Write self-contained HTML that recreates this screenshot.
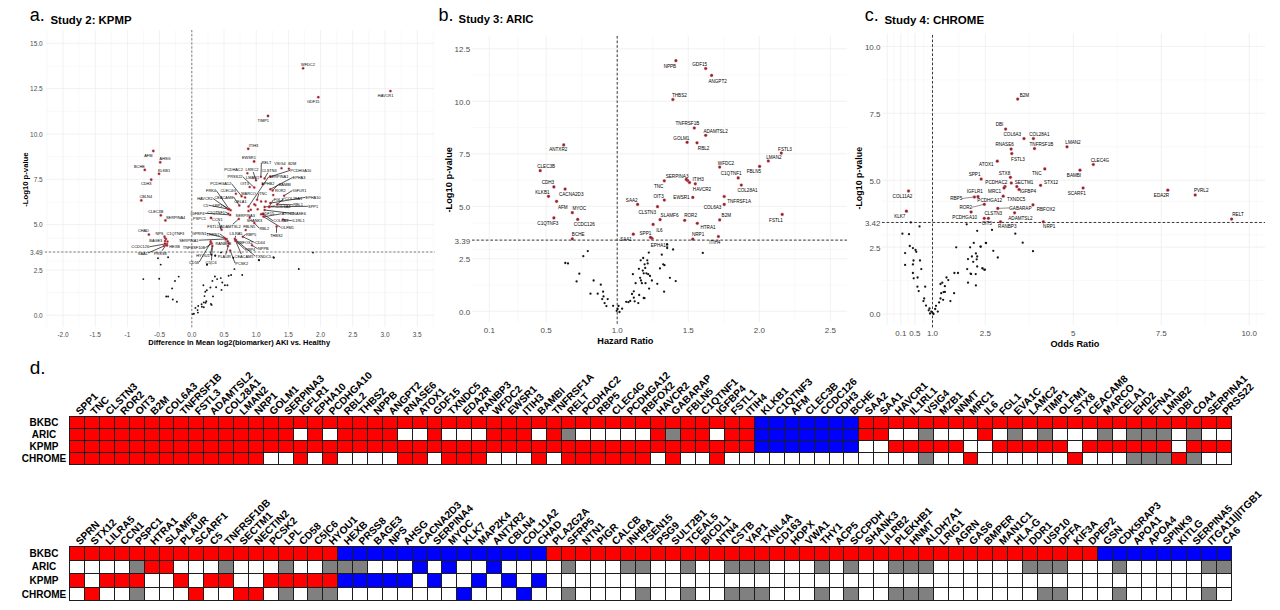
<!DOCTYPE html>
<html><head><meta charset="utf-8"><style>
html,body{margin:0;padding:0;background:#fff;}
body{width:1280px;height:610px;overflow:hidden;}
svg{display:block;font-family:"Liberation Sans",sans-serif;}
</style></head><body>
<svg width="1280" height="610" viewBox="0 0 1280 610">
<rect width="1280" height="610" fill="#fff"/>
<path d="M79.1 30V327M111.3 30V327M143.5 30V327M175.7 30V327M207.9 30V327M240.1 30V327M272.3 30V327M304.5 30V327M336.7 30V327M368.9 30V327M401.1 30V327M46.9 30V327M433.3 30V327M46 292.64H434M46 261H434M46 238.34H434M46 201.99H434M46 156.66H434M46 111.34H434M46 66.01H434" stroke="#f2f2f2" stroke-width="0.5" fill="none"/>
<path d="M63 30V327M95.2 30V327M127.4 30V327M159.6 30V327M191.8 30V327M224 30V327M256.2 30V327M288.4 30V327M320.6 30V327M352.8 30V327M385 30V327M417.2 30V327M46 315.3H434M46 269.98H434M46 252.03H434M46 224.65H434M46 179.33H434M46 134H434M46 88.68H434M46 43.35H434" stroke="#ececec" stroke-width="0.75" fill="none"/>
<line x1="191.8" y1="30" x2="191.8" y2="329" stroke="#555" stroke-width="0.75" stroke-dasharray="2.2 1.9"/>
<line x1="44.8" y1="252.03" x2="435" y2="252.03" stroke="#555" stroke-width="0.75" stroke-dasharray="2.2 1.9"/>
<text x="42.7" y="317.9" font-size="6.5" text-anchor="end" fill="#4d4d4d">0.0</text>
<text x="42.7" y="272.58" font-size="6.5" text-anchor="end" fill="#4d4d4d">2.5</text>
<text x="42.7" y="254.63" font-size="6.5" text-anchor="end" fill="#4d4d4d">3.49</text>
<text x="42.7" y="227.25" font-size="6.5" text-anchor="end" fill="#4d4d4d">5.0</text>
<text x="42.7" y="181.93" font-size="6.5" text-anchor="end" fill="#4d4d4d">7.5</text>
<text x="42.7" y="136.6" font-size="6.5" text-anchor="end" fill="#4d4d4d">10.0</text>
<text x="42.7" y="91.28" font-size="6.5" text-anchor="end" fill="#4d4d4d">12.5</text>
<text x="42.7" y="45.95" font-size="6.5" text-anchor="end" fill="#4d4d4d">15.0</text>
<text x="63" y="336.51" font-size="6.5" text-anchor="middle" fill="#4d4d4d">-2.0</text>
<text x="95.2" y="336.51" font-size="6.5" text-anchor="middle" fill="#4d4d4d">-1.5</text>
<text x="127.4" y="336.51" font-size="6.5" text-anchor="middle" fill="#4d4d4d">-1</text>
<text x="159.6" y="336.51" font-size="6.5" text-anchor="middle" fill="#4d4d4d">-0.5</text>
<text x="191.8" y="336.51" font-size="6.5" text-anchor="middle" fill="#4d4d4d">0.0</text>
<text x="224" y="336.51" font-size="6.5" text-anchor="middle" fill="#4d4d4d">0.5</text>
<text x="256.2" y="336.51" font-size="6.5" text-anchor="middle" fill="#4d4d4d">1.0</text>
<text x="288.4" y="336.51" font-size="6.5" text-anchor="middle" fill="#4d4d4d">1.5</text>
<text x="320.6" y="336.51" font-size="6.5" text-anchor="middle" fill="#4d4d4d">2.0</text>
<text x="352.8" y="336.51" font-size="6.5" text-anchor="middle" fill="#4d4d4d">2.5</text>
<text x="385" y="336.51" font-size="6.5" text-anchor="middle" fill="#4d4d4d">3.0</text>
<text x="417.2" y="336.51" font-size="6.5" text-anchor="middle" fill="#4d4d4d">3.5</text>
<text transform="translate(28.17 179.6) rotate(-90)" font-size="7.7" font-weight="bold" text-anchor="middle">-Log10 p-value</text>
<text x="239.2" y="345.2" font-size="7.5" font-weight="bold" text-anchor="middle" fill="#000">Difference in Mean log2(biomarker) AKI vs. Healthy</text>
<text x="29.8" y="20.6" font-size="18" fill="#000">a.</text>
<text x="50.5" y="23.9" font-size="11.4" font-weight="bold" fill="#000">Study 2: KPMP</text>
<g fill="#151515"><circle cx="313" cy="252.6" r="0.96"/><circle cx="298.8" cy="269" r="0.96"/><circle cx="273.4" cy="257.3" r="0.96"/><circle cx="258.8" cy="259.9" r="0.96"/><circle cx="242.2" cy="275" r="0.96"/><circle cx="234.4" cy="269.1" r="0.96"/><circle cx="231.1" cy="275" r="0.96"/><circle cx="228.6" cy="275.7" r="0.96"/><circle cx="220.8" cy="278.1" r="0.96"/><circle cx="214.9" cy="276.5" r="0.96"/><circle cx="217.1" cy="279.1" r="0.96"/><circle cx="212.4" cy="280.9" r="0.96"/><circle cx="222.3" cy="282.5" r="0.96"/><circle cx="224.9" cy="285.3" r="0.96"/><circle cx="227.4" cy="285.3" r="0.96"/><circle cx="221.5" cy="289.9" r="0.96"/><circle cx="216.1" cy="287.2" r="0.96"/><circle cx="210.4" cy="287.5" r="0.96"/><circle cx="203.4" cy="285.3" r="0.96"/><circle cx="206.8" cy="290.2" r="0.96"/><circle cx="205.3" cy="291.7" r="0.96"/><circle cx="204.5" cy="296.1" r="0.96"/><circle cx="213" cy="296.4" r="0.96"/><circle cx="206.3" cy="301.3" r="0.96"/><circle cx="205.6" cy="302.7" r="0.96"/><circle cx="203.8" cy="302.4" r="0.96"/><circle cx="201.6" cy="304.2" r="0.96"/><circle cx="201.9" cy="306.7" r="0.96"/><circle cx="203.8" cy="307.2" r="0.96"/><circle cx="210.9" cy="303.9" r="0.96"/><circle cx="211.6" cy="304.9" r="0.96"/><circle cx="198.2" cy="306" r="0.96"/><circle cx="195.4" cy="307.9" r="0.96"/><circle cx="197.6" cy="310.1" r="0.96"/><circle cx="197.9" cy="312.6" r="0.96"/><circle cx="192.7" cy="314.1" r="0.96"/><circle cx="193.9" cy="313.8" r="0.96"/><circle cx="207" cy="264.4" r="0.96"/><circle cx="215.3" cy="255.5" r="0.96"/><circle cx="211.5" cy="254.8" r="0.96"/><circle cx="158" cy="258.2" r="0.96"/><circle cx="168.1" cy="257.3" r="0.96"/><circle cx="160.7" cy="264.6" r="0.96"/><circle cx="143.3" cy="279.1" r="0.96"/><circle cx="159.2" cy="278.7" r="0.96"/><circle cx="178.7" cy="276.6" r="0.96"/><circle cx="175" cy="281" r="0.96"/><circle cx="172.1" cy="288.4" r="0.96"/><circle cx="166.2" cy="296.5" r="0.96"/><circle cx="168.1" cy="296.5" r="0.96"/><circle cx="172.8" cy="299.5" r="0.96"/><circle cx="176.9" cy="301.7" r="0.96"/><circle cx="215.2" cy="255.7" r="0.96"/><circle cx="233.3" cy="257.7" r="0.96"/><circle cx="207" cy="264.7" r="0.96"/><circle cx="259.1" cy="260.2" r="0.96"/><circle cx="273.9" cy="257.7" r="0.96"/><circle cx="221" cy="252.4" r="0.96"/></g>
<circle cx="303.1" cy="68.3" r="1.69" fill="#ee6a70" fill-opacity="0.5"/><circle cx="303.1" cy="68.3" r="1.14" fill="#8c2432"/>
<text x="307.9" y="66.04" font-size="3.9" text-anchor="middle" fill="#000">WFDC2</text>
<circle cx="318.3" cy="97.2" r="1.69" fill="#ee6a70" fill-opacity="0.5"/><circle cx="318.3" cy="97.2" r="1.14" fill="#8c2432"/>
<text x="313.2" y="103.24" font-size="3.9" text-anchor="middle" fill="#000">GDF15</text>
<circle cx="390.4" cy="91.1" r="1.69" fill="#ee6a70" fill-opacity="0.5"/><circle cx="390.4" cy="91.1" r="1.14" fill="#8c2432"/>
<text x="385.6" y="96.64" font-size="3.9" text-anchor="middle" fill="#000">HAVCR1</text>
<circle cx="268" cy="116" r="1.69" fill="#ee6a70" fill-opacity="0.5"/><circle cx="268" cy="116" r="1.14" fill="#8c2432"/>
<text x="263.3" y="121.84" font-size="3.9" text-anchor="middle" fill="#000">TIMP1</text>
<circle cx="248.2" cy="148.8" r="1.69" fill="#ee6a70" fill-opacity="0.5"/><circle cx="248.2" cy="148.8" r="1.14" fill="#8c2432"/>
<text x="253.5" y="147.04" font-size="3.9" text-anchor="middle" fill="#000">ITIH3</text>
<circle cx="254.1" cy="161.5" r="1.69" fill="#ee6a70" fill-opacity="0.5"/><circle cx="254.1" cy="161.5" r="1.14" fill="#8c2432"/>
<text x="248.9" y="159.44" font-size="3.9" text-anchor="middle" fill="#000">EWSR1</text>
<circle cx="153.3" cy="151" r="1.69" fill="#ee6a70" fill-opacity="0.5"/><circle cx="153.3" cy="151" r="1.14" fill="#8c2432"/>
<text x="148.3" y="157.24" font-size="3.9" text-anchor="middle" fill="#000">AFM</text>
<circle cx="160.2" cy="162.3" r="1.69" fill="#ee6a70" fill-opacity="0.5"/><circle cx="160.2" cy="162.3" r="1.14" fill="#8c2432"/>
<text x="165.1" y="160.04" font-size="3.9" text-anchor="middle" fill="#000">AHSG</text>
<circle cx="144.8" cy="169.9" r="1.69" fill="#ee6a70" fill-opacity="0.5"/><circle cx="144.8" cy="169.9" r="1.14" fill="#8c2432"/>
<text x="139.4" y="168.04" font-size="3.9" text-anchor="middle" fill="#000">BCHE</text>
<circle cx="159" cy="173.8" r="1.69" fill="#ee6a70" fill-opacity="0.5"/><circle cx="159" cy="173.8" r="1.14" fill="#8c2432"/>
<text x="164" y="171.54" font-size="3.9" text-anchor="middle" fill="#000">KLKB1</text>
<circle cx="151.2" cy="179.7" r="1.69" fill="#ee6a70" fill-opacity="0.5"/><circle cx="151.2" cy="179.7" r="1.14" fill="#8c2432"/>
<text x="146.2" y="184.84" font-size="3.9" text-anchor="middle" fill="#000">CDH3</text>
<circle cx="141.3" cy="200.4" r="1.69" fill="#ee6a70" fill-opacity="0.5"/><circle cx="141.3" cy="200.4" r="1.14" fill="#8c2432"/>
<text x="145.8" y="198.14" font-size="3.9" text-anchor="middle" fill="#000">CBLN4</text>
<circle cx="160.8" cy="215.3" r="1.69" fill="#ee6a70" fill-opacity="0.5"/><circle cx="160.8" cy="215.3" r="1.14" fill="#8c2432"/>
<text x="155.8" y="213.24" font-size="3.9" text-anchor="middle" fill="#000">CLEC3B</text>
<circle cx="165.4" cy="220.4" r="1.69" fill="#ee6a70" fill-opacity="0.5"/><circle cx="165.4" cy="220.4" r="1.14" fill="#8c2432"/>
<text x="175.6" y="218.54" font-size="3.9" text-anchor="middle" fill="#000">SERPINA4</text>
<circle cx="148.9" cy="234.6" r="1.69" fill="#ee6a70" fill-opacity="0.5"/><circle cx="148.9" cy="234.6" r="1.14" fill="#8c2432"/>
<text x="143.4" y="232.34" font-size="3.9" text-anchor="middle" fill="#000">CHAD</text>
<circle cx="211" cy="217.9" r="1.69" fill="#ee6a70" fill-opacity="0.5"/><circle cx="211" cy="217.9" r="1.14" fill="#8c2432"/>
<text x="199.5" y="219.54" font-size="3.9" text-anchor="middle" fill="#000">PSPC1</text>
<path d="M261.36 162.7L260.9 176.7M289.99 170.4L270.3 176.7M253.2 172L256 180.2M267.82 172.6L264.6 178.4M242.78 176.7L254.3 187.6M268.75 176.7L248.5 206.6M292.31 177.6L270.3 189.3M231.51 183.6L241.6 196.2M278.43 184.2L272.6 190.5M258.79 193.4L257.1 199.7M292.37 190.5L284.1 195.7M216.28 190.5L229 208.9M213.07 198.5L227.9 208.9M233.63 197L239.3 205.4M284.64 198L277.2 204.3M305.22 197.4L270.3 203.1M273.32 199.7L269.2 206.6M208.59 205.2L229 209.2M222.68 205.2L230.7 210.3M292.92 204.8L277.2 204.3M307.81 206.3L269.2 206.9M275.22 206L264.6 206.9M204.74 213.2L230.2 214.9M225.28 212L228.4 213.8M261.22 213.8L261.1 214.3M281.39 213.8L264.6 216.6M290 213.2L264.6 210M218.59 221.7L221.6 229.8M272.92 220.7L263 214M291.81 220.7L283 219.5M219.35 226.4L221.6 229.8M232.85 224.2L238.8 218.9M259.12 228.1L254.3 223M280.7 227.3L263.4 216.6M276.46 232.8L276.6 226.4M206.76 233.3L224.4 237.9M219.89 233.9L226.7 239M235.64 235.8L234.8 239M245.61 234.4L242.8 236.7M198.75 240.2L225.6 239M224.68 240.9L227.9 241.3M236.9 241.9L235.3 240.7M254.61 242.5L242.8 236.7M205.46 247.6L211.8 243.6M257.69 248.8L252 245.3M244.81 249.3L235.3 240.7M210.02 255.1L212.4 245.9M225.71 254.6L229 243.6M241.24 254L234.8 239M255.2 256.2L236 240M199.29 262L210.7 242.5M211.49 260.3L212.4 245.9M235.01 263.1L230.2 250.5M149.39 246.8L165 244M148.09 253L164 246M162.01 250.8L166 245" stroke="#111" stroke-width="0.72" fill="none"/>
<circle cx="260.9" cy="176.7" r="1.55" fill="#ee6a70" fill-opacity="0.5"/><circle cx="260.9" cy="176.7" r="1" fill="#8c2432"/>
<circle cx="281.5" cy="168.3" r="1.55" fill="#ee6a70" fill-opacity="0.5"/><circle cx="281.5" cy="168.3" r="1" fill="#8c2432"/>
<circle cx="288.9" cy="168.7" r="1.55" fill="#ee6a70" fill-opacity="0.5"/><circle cx="288.9" cy="168.7" r="1" fill="#8c2432"/>
<circle cx="270.3" cy="176.7" r="1.55" fill="#ee6a70" fill-opacity="0.5"/><circle cx="270.3" cy="176.7" r="1" fill="#8c2432"/>
<circle cx="247.4" cy="173.3" r="1.55" fill="#ee6a70" fill-opacity="0.5"/><circle cx="247.4" cy="173.3" r="1" fill="#8c2432"/>
<circle cx="256" cy="180.2" r="1.55" fill="#ee6a70" fill-opacity="0.5"/><circle cx="256" cy="180.2" r="1" fill="#8c2432"/>
<circle cx="264.6" cy="178.4" r="1.55" fill="#ee6a70" fill-opacity="0.5"/><circle cx="264.6" cy="178.4" r="1" fill="#8c2432"/>
<circle cx="254.3" cy="187.6" r="1.55" fill="#ee6a70" fill-opacity="0.5"/><circle cx="254.3" cy="187.6" r="1" fill="#8c2432"/>
<circle cx="248.5" cy="206.6" r="1.55" fill="#ee6a70" fill-opacity="0.5"/><circle cx="248.5" cy="206.6" r="1" fill="#8c2432"/>
<circle cx="270.3" cy="189.3" r="1.55" fill="#ee6a70" fill-opacity="0.5"/><circle cx="270.3" cy="189.3" r="1" fill="#8c2432"/>
<circle cx="241.6" cy="196.2" r="1.55" fill="#ee6a70" fill-opacity="0.5"/><circle cx="241.6" cy="196.2" r="1" fill="#8c2432"/>
<circle cx="249.7" cy="187" r="1.55" fill="#ee6a70" fill-opacity="0.5"/><circle cx="249.7" cy="187" r="1" fill="#8c2432"/>
<circle cx="262.9" cy="184.2" r="1.55" fill="#ee6a70" fill-opacity="0.5"/><circle cx="262.9" cy="184.2" r="1" fill="#8c2432"/>
<circle cx="272.6" cy="190.5" r="1.55" fill="#ee6a70" fill-opacity="0.5"/><circle cx="272.6" cy="190.5" r="1" fill="#8c2432"/>
<circle cx="235.9" cy="193.7" r="1.55" fill="#ee6a70" fill-opacity="0.5"/><circle cx="235.9" cy="193.7" r="1" fill="#8c2432"/>
<circle cx="245.1" cy="197.4" r="1.55" fill="#ee6a70" fill-opacity="0.5"/><circle cx="245.1" cy="197.4" r="1" fill="#8c2432"/>
<circle cx="257.1" cy="199.7" r="1.55" fill="#ee6a70" fill-opacity="0.5"/><circle cx="257.1" cy="199.7" r="1" fill="#8c2432"/>
<circle cx="273.2" cy="195.1" r="1.55" fill="#ee6a70" fill-opacity="0.5"/><circle cx="273.2" cy="195.1" r="1" fill="#8c2432"/>
<circle cx="284.1" cy="195.7" r="1.55" fill="#ee6a70" fill-opacity="0.5"/><circle cx="284.1" cy="195.7" r="1" fill="#8c2432"/>
<circle cx="229" cy="208.9" r="1.55" fill="#ee6a70" fill-opacity="0.5"/><circle cx="229" cy="208.9" r="1" fill="#8c2432"/>
<circle cx="227.9" cy="208.9" r="1.55" fill="#ee6a70" fill-opacity="0.5"/><circle cx="227.9" cy="208.9" r="1" fill="#8c2432"/>
<circle cx="239.3" cy="205.4" r="1.55" fill="#ee6a70" fill-opacity="0.5"/><circle cx="239.3" cy="205.4" r="1" fill="#8c2432"/>
<circle cx="277.2" cy="204.3" r="1.55" fill="#ee6a70" fill-opacity="0.5"/><circle cx="277.2" cy="204.3" r="1" fill="#8c2432"/>
<circle cx="270.3" cy="203.1" r="1.55" fill="#ee6a70" fill-opacity="0.5"/><circle cx="270.3" cy="203.1" r="1" fill="#8c2432"/>
<circle cx="269.2" cy="206.6" r="1.55" fill="#ee6a70" fill-opacity="0.5"/><circle cx="269.2" cy="206.6" r="1" fill="#8c2432"/>
<circle cx="229" cy="209.2" r="1.55" fill="#ee6a70" fill-opacity="0.5"/><circle cx="229" cy="209.2" r="1" fill="#8c2432"/>
<circle cx="230.7" cy="210.3" r="1.55" fill="#ee6a70" fill-opacity="0.5"/><circle cx="230.7" cy="210.3" r="1" fill="#8c2432"/>
<circle cx="269.2" cy="206.9" r="1.55" fill="#ee6a70" fill-opacity="0.5"/><circle cx="269.2" cy="206.9" r="1" fill="#8c2432"/>
<circle cx="264.6" cy="206.9" r="1.55" fill="#ee6a70" fill-opacity="0.5"/><circle cx="264.6" cy="206.9" r="1" fill="#8c2432"/>
<circle cx="230.2" cy="214.9" r="1.55" fill="#ee6a70" fill-opacity="0.5"/><circle cx="230.2" cy="214.9" r="1" fill="#8c2432"/>
<circle cx="228.4" cy="213.8" r="1.55" fill="#ee6a70" fill-opacity="0.5"/><circle cx="228.4" cy="213.8" r="1" fill="#8c2432"/>
<circle cx="249.7" cy="217.8" r="1.55" fill="#ee6a70" fill-opacity="0.5"/><circle cx="249.7" cy="217.8" r="1" fill="#8c2432"/>
<circle cx="261.1" cy="214.3" r="1.55" fill="#ee6a70" fill-opacity="0.5"/><circle cx="261.1" cy="214.3" r="1" fill="#8c2432"/>
<circle cx="264.6" cy="216.6" r="1.55" fill="#ee6a70" fill-opacity="0.5"/><circle cx="264.6" cy="216.6" r="1" fill="#8c2432"/>
<circle cx="264.6" cy="210" r="1.55" fill="#ee6a70" fill-opacity="0.5"/><circle cx="264.6" cy="210" r="1" fill="#8c2432"/>
<circle cx="221.6" cy="229.8" r="1.55" fill="#ee6a70" fill-opacity="0.5"/><circle cx="221.6" cy="229.8" r="1" fill="#8c2432"/>
<circle cx="263" cy="214" r="1.55" fill="#ee6a70" fill-opacity="0.5"/><circle cx="263" cy="214" r="1" fill="#8c2432"/>
<circle cx="283" cy="219.5" r="1.55" fill="#ee6a70" fill-opacity="0.5"/><circle cx="283" cy="219.5" r="1" fill="#8c2432"/>
<circle cx="238.8" cy="218.9" r="1.55" fill="#ee6a70" fill-opacity="0.5"/><circle cx="238.8" cy="218.9" r="1" fill="#8c2432"/>
<circle cx="245.7" cy="230.1" r="1.55" fill="#ee6a70" fill-opacity="0.5"/><circle cx="245.7" cy="230.1" r="1" fill="#8c2432"/>
<circle cx="254.3" cy="223" r="1.55" fill="#ee6a70" fill-opacity="0.5"/><circle cx="254.3" cy="223" r="1" fill="#8c2432"/>
<circle cx="263.4" cy="216.6" r="1.55" fill="#ee6a70" fill-opacity="0.5"/><circle cx="263.4" cy="216.6" r="1" fill="#8c2432"/>
<circle cx="276.6" cy="226.4" r="1.55" fill="#ee6a70" fill-opacity="0.5"/><circle cx="276.6" cy="226.4" r="1" fill="#8c2432"/>
<circle cx="224.4" cy="237.9" r="1.55" fill="#ee6a70" fill-opacity="0.5"/><circle cx="224.4" cy="237.9" r="1" fill="#8c2432"/>
<circle cx="226.7" cy="239" r="1.55" fill="#ee6a70" fill-opacity="0.5"/><circle cx="226.7" cy="239" r="1" fill="#8c2432"/>
<circle cx="234.8" cy="239" r="1.55" fill="#ee6a70" fill-opacity="0.5"/><circle cx="234.8" cy="239" r="1" fill="#8c2432"/>
<circle cx="242.8" cy="236.7" r="1.55" fill="#ee6a70" fill-opacity="0.5"/><circle cx="242.8" cy="236.7" r="1" fill="#8c2432"/>
<circle cx="225.6" cy="239" r="1.55" fill="#ee6a70" fill-opacity="0.5"/><circle cx="225.6" cy="239" r="1" fill="#8c2432"/>
<circle cx="227.9" cy="241.3" r="1.55" fill="#ee6a70" fill-opacity="0.5"/><circle cx="227.9" cy="241.3" r="1" fill="#8c2432"/>
<circle cx="235.3" cy="240.7" r="1.55" fill="#ee6a70" fill-opacity="0.5"/><circle cx="235.3" cy="240.7" r="1" fill="#8c2432"/>
<circle cx="211.8" cy="243.6" r="1.55" fill="#ee6a70" fill-opacity="0.5"/><circle cx="211.8" cy="243.6" r="1" fill="#8c2432"/>
<circle cx="252" cy="245.3" r="1.55" fill="#ee6a70" fill-opacity="0.5"/><circle cx="252" cy="245.3" r="1" fill="#8c2432"/>
<circle cx="212.4" cy="245.9" r="1.55" fill="#ee6a70" fill-opacity="0.5"/><circle cx="212.4" cy="245.9" r="1" fill="#8c2432"/>
<circle cx="229" cy="243.6" r="1.55" fill="#ee6a70" fill-opacity="0.5"/><circle cx="229" cy="243.6" r="1" fill="#8c2432"/>
<circle cx="236" cy="240" r="1.55" fill="#ee6a70" fill-opacity="0.5"/><circle cx="236" cy="240" r="1" fill="#8c2432"/>
<circle cx="210.7" cy="242.5" r="1.55" fill="#ee6a70" fill-opacity="0.5"/><circle cx="210.7" cy="242.5" r="1" fill="#8c2432"/>
<circle cx="230.2" cy="250.5" r="1.55" fill="#ee6a70" fill-opacity="0.5"/><circle cx="230.2" cy="250.5" r="1" fill="#8c2432"/>
<circle cx="165" cy="238" r="1.55" fill="#ee6a70" fill-opacity="0.5"/><circle cx="165" cy="238" r="1" fill="#8c2432"/>
<circle cx="166" cy="239" r="1.55" fill="#ee6a70" fill-opacity="0.5"/><circle cx="166" cy="239" r="1" fill="#8c2432"/>
<circle cx="165" cy="241" r="1.55" fill="#ee6a70" fill-opacity="0.5"/><circle cx="165" cy="241" r="1" fill="#8c2432"/>
<circle cx="165" cy="244" r="1.55" fill="#ee6a70" fill-opacity="0.5"/><circle cx="165" cy="244" r="1" fill="#8c2432"/>
<circle cx="167" cy="244" r="1.55" fill="#ee6a70" fill-opacity="0.5"/><circle cx="167" cy="244" r="1" fill="#8c2432"/>
<circle cx="164" cy="246" r="1.55" fill="#ee6a70" fill-opacity="0.5"/><circle cx="164" cy="246" r="1" fill="#8c2432"/>
<circle cx="166" cy="245" r="1.55" fill="#ee6a70" fill-opacity="0.5"/><circle cx="166" cy="245" r="1" fill="#8c2432"/>
<circle cx="248.5" cy="210.9" r="1.55" fill="#ee6a70" fill-opacity="0.5"/><circle cx="248.5" cy="210.9" r="1" fill="#8c2432"/>
<circle cx="250.8" cy="209.8" r="1.55" fill="#ee6a70" fill-opacity="0.5"/><circle cx="250.8" cy="209.8" r="1" fill="#8c2432"/>
<circle cx="255.4" cy="205.2" r="1.55" fill="#ee6a70" fill-opacity="0.5"/><circle cx="255.4" cy="205.2" r="1" fill="#8c2432"/>
<circle cx="257.7" cy="209.2" r="1.55" fill="#ee6a70" fill-opacity="0.5"/><circle cx="257.7" cy="209.2" r="1" fill="#8c2432"/>
<circle cx="210.7" cy="241.3" r="1.55" fill="#ee6a70" fill-opacity="0.5"/><circle cx="210.7" cy="241.3" r="1" fill="#8c2432"/>
<circle cx="227.9" cy="245.9" r="1.55" fill="#ee6a70" fill-opacity="0.5"/><circle cx="227.9" cy="245.9" r="1" fill="#8c2432"/>
<circle cx="261.1" cy="201.4" r="1.55" fill="#ee6a70" fill-opacity="0.5"/><circle cx="261.1" cy="201.4" r="1" fill="#8c2432"/>
<circle cx="265.7" cy="201.4" r="1.55" fill="#ee6a70" fill-opacity="0.5"/><circle cx="265.7" cy="201.4" r="1" fill="#8c2432"/>
<circle cx="254.3" cy="204.3" r="1.55" fill="#ee6a70" fill-opacity="0.5"/><circle cx="254.3" cy="204.3" r="1" fill="#8c2432"/>
<circle cx="164.5" cy="236.5" r="1.55" fill="#ee6a70" fill-opacity="0.5"/><circle cx="164.5" cy="236.5" r="1" fill="#8c2432"/>
<circle cx="167.5" cy="241.5" r="1.55" fill="#ee6a70" fill-opacity="0.5"/><circle cx="167.5" cy="241.5" r="1" fill="#8c2432"/>
<circle cx="165" cy="243.5" r="1.55" fill="#ee6a70" fill-opacity="0.5"/><circle cx="165" cy="243.5" r="1" fill="#8c2432"/>
<circle cx="167" cy="245.5" r="1.55" fill="#ee6a70" fill-opacity="0.5"/><circle cx="167" cy="245.5" r="1" fill="#8c2432"/>
<text x="266.5" y="164.34" font-size="3.9" text-anchor="middle" fill="#000">RELT</text>
<text x="279.9" y="165.14" font-size="3.9" text-anchor="middle" fill="#000">VSIG4</text>
<text x="292.2" y="165.14" font-size="3.9" text-anchor="middle" fill="#000">B2M</text>
<text x="300.8" y="172.04" font-size="3.9" text-anchor="middle" fill="#000">PCDHGA10</text>
<text x="233.5" y="171.44" font-size="3.9" text-anchor="middle" fill="#000">PCDHAC2</text>
<text x="252" y="171.44" font-size="3.9" text-anchor="middle" fill="#000">LRRC2</text>
<text x="269.2" y="172.04" font-size="3.9" text-anchor="middle" fill="#000">CLSTN3</text>
<text x="235" y="178.34" font-size="3.9" text-anchor="middle" fill="#000">PRSS22</text>
<text x="252.6" y="178.94" font-size="3.9" text-anchor="middle" fill="#000">LMAN1</text>
<text x="278.7" y="178.34" font-size="3.9" text-anchor="middle" fill="#000">SERPINA1</text>
<text x="299" y="179.24" font-size="3.9" text-anchor="middle" fill="#000">EPHA3</text>
<text x="220.7" y="185.24" font-size="3.9" text-anchor="middle" fill="#000">PCDHGA12</text>
<text x="244.5" y="185.24" font-size="3.9" text-anchor="middle" fill="#000">OIT3</text>
<text x="268" y="185.24" font-size="3.9" text-anchor="middle" fill="#000">EPHB2</text>
<text x="284.8" y="185.84" font-size="3.9" text-anchor="middle" fill="#000">BAMBI</text>
<text x="228.2" y="191.94" font-size="3.9" text-anchor="middle" fill="#000">CLEC4G</text>
<text x="248.6" y="194.64" font-size="3.9" text-anchor="middle" fill="#000">MARCO</text>
<text x="263.1" y="195.04" font-size="3.9" text-anchor="middle" fill="#000">TNC</text>
<text x="280.3" y="192.14" font-size="3.9" text-anchor="middle" fill="#000">ROR2</text>
<text x="299.5" y="192.14" font-size="3.9" text-anchor="middle" fill="#000">IGFLR1</text>
<text x="211" y="192.14" font-size="3.9" text-anchor="middle" fill="#000">FRK4</text>
<text x="205" y="200.14" font-size="3.9" text-anchor="middle" fill="#000">HAVCR2</text>
<text x="223.9" y="198.64" font-size="3.9" text-anchor="middle" fill="#000">CEACAM8</text>
<text x="293.5" y="199.64" font-size="3.9" text-anchor="middle" fill="#000">COL28A1</text>
<text x="313" y="199.04" font-size="3.9" text-anchor="middle" fill="#000">EPHA10</text>
<text x="278.5" y="201.34" font-size="3.9" text-anchor="middle" fill="#000">FGL1</text>
<text x="240.4" y="203.04" font-size="3.9" text-anchor="middle" fill="#000">CELA1</text>
<text x="205.8" y="206.84" font-size="3.9" text-anchor="middle" fill="#000">C5</text>
<text x="217.5" y="206.84" font-size="3.9" text-anchor="middle" fill="#000">LRP1</text>
<text x="298.1" y="206.44" font-size="3.9" text-anchor="middle" fill="#000">RBL1</text>
<text x="313.1" y="207.94" font-size="3.9" text-anchor="middle" fill="#000">SPP1</text>
<text x="283" y="207.64" font-size="3.9" text-anchor="middle" fill="#000">COL6A4</text>
<text x="197.5" y="214.84" font-size="3.9" text-anchor="middle" fill="#000">IGFBP4</text>
<text x="216.1" y="213.64" font-size="3.9" text-anchor="middle" fill="#000">C1QTNF1</text>
<text x="245.2" y="216.54" font-size="3.9" text-anchor="middle" fill="#000">SERPINA3</text>
<text x="267.8" y="215.44" font-size="3.9" text-anchor="middle" fill="#000">GDF15</text>
<text x="287.9" y="215.44" font-size="3.9" text-anchor="middle" fill="#000">ATOX1</text>
<text x="298.1" y="214.84" font-size="3.9" text-anchor="middle" fill="#000">RNASE6</text>
<text x="217.3" y="221.14" font-size="3.9" text-anchor="middle" fill="#000">CCN1</text>
<text x="254.5" y="222.34" font-size="3.9" text-anchor="middle" fill="#000">SHANK3</text>
<text x="280.7" y="222.34" font-size="3.9" text-anchor="middle" fill="#000">COL6A3</text>
<text x="298.4" y="222.34" font-size="3.9" text-anchor="middle" fill="#000">IL1RL1</text>
<text x="213.2" y="228.04" font-size="3.9" text-anchor="middle" fill="#000">FSTL1</text>
<text x="230.3" y="228.04" font-size="3.9" text-anchor="middle" fill="#000">ADAMTSL2</text>
<text x="249.2" y="228.04" font-size="3.9" text-anchor="middle" fill="#000">FBLN5</text>
<text x="264.3" y="229.74" font-size="3.9" text-anchor="middle" fill="#000">RBL2</text>
<text x="287.5" y="228.94" font-size="3.9" text-anchor="middle" fill="#000">OLFM1</text>
<text x="276.4" y="236.64" font-size="3.9" text-anchor="middle" fill="#000">THBS2</text>
<text x="199.2" y="234.94" font-size="3.9" text-anchor="middle" fill="#000">GPRIN1</text>
<text x="213.2" y="235.54" font-size="3.9" text-anchor="middle" fill="#000">LRRN1</text>
<text x="236" y="235.24" font-size="3.9" text-anchor="middle" fill="#000">LILRA5</text>
<text x="251" y="236.04" font-size="3.9" text-anchor="middle" fill="#000">RBP5</text>
<text x="188.8" y="241.84" font-size="3.9" text-anchor="middle" fill="#000">SERPINA1</text>
<text x="223.3" y="244.74" font-size="3.9" text-anchor="middle" fill="#000">RANBP3</text>
<text x="245" y="243.54" font-size="3.9" text-anchor="middle" fill="#000">RBFOX2</text>
<text x="259.9" y="244.14" font-size="3.9" text-anchor="middle" fill="#000">CD44</text>
<text x="194" y="249.24" font-size="3.9" text-anchor="middle" fill="#000">TNFRSF10B</text>
<text x="263.3" y="250.44" font-size="3.9" text-anchor="middle" fill="#000">NPPB</text>
<text x="250.2" y="250.94" font-size="3.9" text-anchor="middle" fill="#000">RBP4</text>
<text x="203" y="256.74" font-size="3.9" text-anchor="middle" fill="#000">HYOU1</text>
<text x="224.3" y="258.44" font-size="3.9" text-anchor="middle" fill="#000">PLAUR</text>
<text x="244" y="257.84" font-size="3.9" text-anchor="middle" fill="#000">CEACAM5</text>
<text x="263.3" y="257.84" font-size="3.9" text-anchor="middle" fill="#000">TXNDC5</text>
<text x="194" y="263.64" font-size="3.9" text-anchor="middle" fill="#000">CD58</text>
<text x="211.1" y="264.14" font-size="3.9" text-anchor="middle" fill="#000">C5|C6</text>
<text x="241.7" y="264.74" font-size="3.9" text-anchor="middle" fill="#000">PCSK2</text>
<text x="159.4" y="234.64" font-size="3.9" text-anchor="middle" fill="#000">NPS</text>
<text x="175.4" y="234.64" font-size="3.9" text-anchor="middle" fill="#000">C1QTNF3</text>
<text x="155.8" y="241.94" font-size="3.9" text-anchor="middle" fill="#000">BAGE3</text>
<text x="140.2" y="248.44" font-size="3.9" text-anchor="middle" fill="#000">CCDC126</text>
<text x="174.6" y="248.44" font-size="3.9" text-anchor="middle" fill="#000">HEXB</text>
<text x="142.8" y="254.64" font-size="3.9" text-anchor="middle" fill="#000">SAA1</text>
<text x="160.3" y="254.64" font-size="3.9" text-anchor="middle" fill="#000">PRSS8</text>
<path d="M517.73 36V322M581.68 36V322M652.73 36V322M723.78 36V322M794.83 36V322M472 285.05H847M472 249.46H847M472 223.21H847M472 180.05H847M472 127.55H847M472 75.05H847" stroke="#f2f2f2" stroke-width="0.5" fill="none"/>
<path d="M489.31 36V322M546.15 36V322M617.2 36V322M688.25 36V322M759.3 36V322M830.35 36V322M472 311.3H847M472 258.8H847M472 240.11H847M472 206.3H847M472 153.8H847M472 101.3H847M472 48.8H847" stroke="#ececec" stroke-width="0.75" fill="none"/>
<line x1="617.2" y1="36" x2="617.2" y2="324" stroke="#222" stroke-width="0.9" stroke-dasharray="2.6 2"/>
<line x1="472" y1="240.11" x2="847" y2="240.11" stroke="#222" stroke-width="0.9" stroke-dasharray="2.6 2"/>
<text x="470.2" y="314.74" font-size="8" text-anchor="end" fill="#4d4d4d">0.0</text>
<text x="470.2" y="262.24" font-size="8" text-anchor="end" fill="#4d4d4d">2.5</text>
<text x="470.2" y="243.55" font-size="8" text-anchor="end" fill="#4d4d4d">3.39</text>
<text x="470.2" y="209.74" font-size="8" text-anchor="end" fill="#4d4d4d">5.0</text>
<text x="470.2" y="157.24" font-size="8" text-anchor="end" fill="#4d4d4d">7.5</text>
<text x="470.2" y="104.74" font-size="8" text-anchor="end" fill="#4d4d4d">10.0</text>
<text x="470.2" y="52.24" font-size="8" text-anchor="end" fill="#4d4d4d">12.5</text>
<text x="489.31" y="333.48" font-size="8" text-anchor="middle" fill="#4d4d4d">0.1</text>
<text x="546.15" y="333.48" font-size="8" text-anchor="middle" fill="#4d4d4d">0.5</text>
<text x="617.2" y="333.48" font-size="8" text-anchor="middle" fill="#4d4d4d">1.0</text>
<text x="688.25" y="333.48" font-size="8" text-anchor="middle" fill="#4d4d4d">1.5</text>
<text x="759.3" y="333.48" font-size="8" text-anchor="middle" fill="#4d4d4d">2.0</text>
<text x="830.35" y="333.48" font-size="8" text-anchor="middle" fill="#4d4d4d">2.5</text>
<text transform="translate(451.65 179.8) rotate(-90)" font-size="9.3" font-weight="bold" text-anchor="middle">-Log10 p-value</text>
<text x="625.4" y="344.2" font-size="9.2" font-weight="bold" text-anchor="middle" fill="#000">Hazard Ratio</text>
<text x="438.6" y="20.6" font-size="18" fill="#000">b.</text>
<text x="458.6" y="23.4" font-size="11.3" font-weight="bold" fill="#000">Study 3: ARIC</text>
<g fill="#151515"><circle cx="587.8" cy="251.1" r="1.14"/><circle cx="583.3" cy="256.2" r="1.14"/><circle cx="565.3" cy="263" r="1.14"/><circle cx="568" cy="263.4" r="1.14"/><circle cx="579.3" cy="273.7" r="1.14"/><circle cx="576.6" cy="281.4" r="1.14"/><circle cx="593.6" cy="280.5" r="1.14"/><circle cx="600.8" cy="284.7" r="1.14"/><circle cx="590.5" cy="293.7" r="1.14"/><circle cx="597.7" cy="293.7" r="1.14"/><circle cx="603.1" cy="291.7" r="1.14"/><circle cx="603.5" cy="296.4" r="1.14"/><circle cx="602.2" cy="299.1" r="1.14"/><circle cx="607.7" cy="299.1" r="1.14"/><circle cx="604.6" cy="303.1" r="1.14"/><circle cx="606.4" cy="306.1" r="1.14"/><circle cx="613.1" cy="305.8" r="1.14"/><circle cx="617.6" cy="309" r="1.14"/><circle cx="622.1" cy="308.7" r="1.14"/><circle cx="616.7" cy="310.8" r="1.14"/><circle cx="626.2" cy="301.8" r="1.14"/><circle cx="628.4" cy="302.2" r="1.14"/><circle cx="630.2" cy="300.9" r="1.14"/><circle cx="634.7" cy="301.3" r="1.14"/><circle cx="638.3" cy="303.1" r="1.14"/><circle cx="643.7" cy="298" r="1.14"/><circle cx="639.2" cy="295" r="1.14"/><circle cx="633.8" cy="297.7" r="1.14"/><circle cx="632" cy="294" r="1.14"/><circle cx="633.8" cy="291.3" r="1.14"/><circle cx="632.9" cy="274.2" r="1.14"/><circle cx="635.6" cy="283.2" r="1.14"/><circle cx="638.9" cy="268.8" r="1.14"/><circle cx="640.1" cy="277.8" r="1.14"/><circle cx="641" cy="280.5" r="1.14"/><circle cx="641.9" cy="283.2" r="1.14"/><circle cx="640.7" cy="260.3" r="1.14"/><circle cx="643.2" cy="258" r="1.14"/><circle cx="644.6" cy="264.3" r="1.14"/><circle cx="647.3" cy="260.3" r="1.14"/><circle cx="647.7" cy="263.4" r="1.14"/><circle cx="645.2" cy="267.9" r="1.14"/><circle cx="642.8" cy="270.6" r="1.14"/><circle cx="643.7" cy="273.3" r="1.14"/><circle cx="646.4" cy="273.3" r="1.14"/><circle cx="648.2" cy="274.2" r="1.14"/><circle cx="650" cy="276" r="1.14"/><circle cx="645.5" cy="283.2" r="1.14"/><circle cx="649.1" cy="288.6" r="1.14"/><circle cx="651.9" cy="280.5" r="1.14"/><circle cx="657.3" cy="283.8" r="1.14"/><circle cx="648.8" cy="252.6" r="1.14"/><circle cx="661.8" cy="254.7" r="1.14"/><circle cx="660" cy="268.4" r="1.14"/><circle cx="663.2" cy="264.3" r="1.14"/><circle cx="664.5" cy="265.2" r="1.14"/><circle cx="669.9" cy="277.8" r="1.14"/><circle cx="675.7" cy="281.1" r="1.14"/><circle cx="664.1" cy="291.7" r="1.14"/><circle cx="667.2" cy="248" r="1.14"/><circle cx="673.1" cy="249.5" r="1.14"/><circle cx="667.1" cy="244.4" r="1.14"/><circle cx="702.8" cy="252.9" r="1.14"/><circle cx="644.5" cy="298.2" r="1.14"/><circle cx="618.5" cy="306" r="1.14"/><circle cx="619.5" cy="312" r="1.14"/></g>
<circle cx="563.7" cy="144.9" r="1.88" fill="#ee6a70" fill-opacity="0.5"/><circle cx="563.7" cy="144.9" r="1.33" fill="#8c2432"/>
<circle cx="540.2" cy="170.7" r="1.88" fill="#ee6a70" fill-opacity="0.5"/><circle cx="540.2" cy="170.7" r="1.33" fill="#8c2432"/>
<circle cx="553.9" cy="186.9" r="1.88" fill="#ee6a70" fill-opacity="0.5"/><circle cx="553.9" cy="186.9" r="1.33" fill="#8c2432"/>
<circle cx="565.1" cy="189.1" r="1.88" fill="#ee6a70" fill-opacity="0.5"/><circle cx="565.1" cy="189.1" r="1.33" fill="#8c2432"/>
<circle cx="548.5" cy="196.3" r="1.88" fill="#ee6a70" fill-opacity="0.5"/><circle cx="548.5" cy="196.3" r="1.33" fill="#8c2432"/>
<circle cx="556.6" cy="201.3" r="1.88" fill="#ee6a70" fill-opacity="0.5"/><circle cx="556.6" cy="201.3" r="1.33" fill="#8c2432"/>
<circle cx="572.3" cy="212.7" r="1.88" fill="#ee6a70" fill-opacity="0.5"/><circle cx="572.3" cy="212.7" r="1.33" fill="#8c2432"/>
<circle cx="553.9" cy="217.9" r="1.88" fill="#ee6a70" fill-opacity="0.5"/><circle cx="553.9" cy="217.9" r="1.33" fill="#8c2432"/>
<circle cx="577.7" cy="219.4" r="1.88" fill="#ee6a70" fill-opacity="0.5"/><circle cx="577.7" cy="219.4" r="1.33" fill="#8c2432"/>
<circle cx="572.3" cy="238.9" r="1.88" fill="#ee6a70" fill-opacity="0.5"/><circle cx="572.3" cy="238.9" r="1.33" fill="#8c2432"/>
<circle cx="637.6" cy="204.4" r="1.88" fill="#ee6a70" fill-opacity="0.5"/><circle cx="637.6" cy="204.4" r="1.33" fill="#8c2432"/>
<circle cx="633.3" cy="234.2" r="1.88" fill="#ee6a70" fill-opacity="0.5"/><circle cx="633.3" cy="234.2" r="1.33" fill="#8c2432"/>
<circle cx="657.5" cy="206.7" r="1.88" fill="#ee6a70" fill-opacity="0.5"/><circle cx="657.5" cy="206.7" r="1.33" fill="#8c2432"/>
<circle cx="653.1" cy="224.4" r="1.88" fill="#ee6a70" fill-opacity="0.5"/><circle cx="653.1" cy="224.4" r="1.33" fill="#8c2432"/>
<circle cx="652" cy="238.3" r="1.88" fill="#ee6a70" fill-opacity="0.5"/><circle cx="652" cy="238.3" r="1.33" fill="#8c2432"/>
<circle cx="664.3" cy="180.8" r="1.88" fill="#ee6a70" fill-opacity="0.5"/><circle cx="664.3" cy="180.8" r="1.33" fill="#8c2432"/>
<circle cx="664.3" cy="200.1" r="1.88" fill="#ee6a70" fill-opacity="0.5"/><circle cx="664.3" cy="200.1" r="1.33" fill="#8c2432"/>
<circle cx="687.7" cy="180.6" r="1.88" fill="#ee6a70" fill-opacity="0.5"/><circle cx="687.7" cy="180.6" r="1.33" fill="#8c2432"/>
<circle cx="695.3" cy="183.8" r="1.88" fill="#ee6a70" fill-opacity="0.5"/><circle cx="695.3" cy="183.8" r="1.33" fill="#8c2432"/>
<circle cx="689.5" cy="182.5" r="1.88" fill="#ee6a70" fill-opacity="0.5"/><circle cx="689.5" cy="182.5" r="1.33" fill="#8c2432"/>
<circle cx="692.8" cy="197.4" r="1.88" fill="#ee6a70" fill-opacity="0.5"/><circle cx="692.8" cy="197.4" r="1.33" fill="#8c2432"/>
<circle cx="660.1" cy="219.7" r="1.88" fill="#ee6a70" fill-opacity="0.5"/><circle cx="660.1" cy="219.7" r="1.33" fill="#8c2432"/>
<circle cx="684.7" cy="220.3" r="1.88" fill="#ee6a70" fill-opacity="0.5"/><circle cx="684.7" cy="220.3" r="1.33" fill="#8c2432"/>
<circle cx="697.3" cy="223.3" r="1.88" fill="#ee6a70" fill-opacity="0.5"/><circle cx="697.3" cy="223.3" r="1.33" fill="#8c2432"/>
<circle cx="692.8" cy="239.2" r="1.88" fill="#ee6a70" fill-opacity="0.5"/><circle cx="692.8" cy="239.2" r="1.33" fill="#8c2432"/>
<circle cx="719.7" cy="219.9" r="1.88" fill="#ee6a70" fill-opacity="0.5"/><circle cx="719.7" cy="219.9" r="1.33" fill="#8c2432"/>
<circle cx="718.4" cy="236.5" r="1.88" fill="#ee6a70" fill-opacity="0.5"/><circle cx="718.4" cy="236.5" r="1.33" fill="#8c2432"/>
<circle cx="724.2" cy="204.4" r="1.88" fill="#ee6a70" fill-opacity="0.5"/><circle cx="724.2" cy="204.4" r="1.33" fill="#8c2432"/>
<circle cx="724.2" cy="196.5" r="1.88" fill="#ee6a70" fill-opacity="0.5"/><circle cx="724.2" cy="196.5" r="1.33" fill="#8c2432"/>
<circle cx="719.7" cy="167.1" r="1.88" fill="#ee6a70" fill-opacity="0.5"/><circle cx="719.7" cy="167.1" r="1.33" fill="#8c2432"/>
<circle cx="738.2" cy="177.9" r="1.88" fill="#ee6a70" fill-opacity="0.5"/><circle cx="738.2" cy="177.9" r="1.33" fill="#8c2432"/>
<circle cx="741.3" cy="185.1" r="1.88" fill="#ee6a70" fill-opacity="0.5"/><circle cx="741.3" cy="185.1" r="1.33" fill="#8c2432"/>
<circle cx="759.6" cy="166.4" r="1.88" fill="#ee6a70" fill-opacity="0.5"/><circle cx="759.6" cy="166.4" r="1.33" fill="#8c2432"/>
<circle cx="768.3" cy="161" r="1.88" fill="#ee6a70" fill-opacity="0.5"/><circle cx="768.3" cy="161" r="1.33" fill="#8c2432"/>
<circle cx="781.3" cy="153.1" r="1.88" fill="#ee6a70" fill-opacity="0.5"/><circle cx="781.3" cy="153.1" r="1.33" fill="#8c2432"/>
<circle cx="782.2" cy="214.4" r="1.88" fill="#ee6a70" fill-opacity="0.5"/><circle cx="782.2" cy="214.4" r="1.33" fill="#8c2432"/>
<circle cx="675.9" cy="60.7" r="1.88" fill="#ee6a70" fill-opacity="0.5"/><circle cx="675.9" cy="60.7" r="1.33" fill="#8c2432"/>
<circle cx="705.7" cy="68.5" r="1.88" fill="#ee6a70" fill-opacity="0.5"/><circle cx="705.7" cy="68.5" r="1.33" fill="#8c2432"/>
<circle cx="711.6" cy="75.4" r="1.88" fill="#ee6a70" fill-opacity="0.5"/><circle cx="711.6" cy="75.4" r="1.33" fill="#8c2432"/>
<circle cx="672.9" cy="99.5" r="1.88" fill="#ee6a70" fill-opacity="0.5"/><circle cx="672.9" cy="99.5" r="1.33" fill="#8c2432"/>
<circle cx="694.3" cy="128" r="1.88" fill="#ee6a70" fill-opacity="0.5"/><circle cx="694.3" cy="128" r="1.33" fill="#8c2432"/>
<circle cx="705.7" cy="135.3" r="1.88" fill="#ee6a70" fill-opacity="0.5"/><circle cx="705.7" cy="135.3" r="1.33" fill="#8c2432"/>
<circle cx="687.1" cy="142.3" r="1.88" fill="#ee6a70" fill-opacity="0.5"/><circle cx="687.1" cy="142.3" r="1.33" fill="#8c2432"/>
<circle cx="697" cy="142.8" r="1.88" fill="#ee6a70" fill-opacity="0.5"/><circle cx="697" cy="142.8" r="1.33" fill="#8c2432"/>
<circle cx="650.5" cy="237.3" r="1.88" fill="#ee6a70" fill-opacity="0.5"/><circle cx="650.5" cy="237.3" r="1.33" fill="#8c2432"/>
<circle cx="686.3" cy="179.4" r="1.88" fill="#ee6a70" fill-opacity="0.5"/><circle cx="686.3" cy="179.4" r="1.33" fill="#8c2432"/>
<text x="558.2" y="151.33" font-size="4.6" text-anchor="middle" fill="#000">ANTXR2</text>
<text x="546.2" y="168.13" font-size="4.6" text-anchor="middle" fill="#000">CLEC3B</text>
<text x="547.9" y="184.33" font-size="4.6" text-anchor="middle" fill="#000">CDH3</text>
<text x="571.2" y="196.03" font-size="4.6" text-anchor="middle" fill="#000">CACNA2D3</text>
<text x="542.4" y="193.73" font-size="4.6" text-anchor="middle" fill="#000">KLKB1</text>
<text x="562.8" y="208.63" font-size="4.6" text-anchor="middle" fill="#000">AFM</text>
<text x="579.3" y="210.13" font-size="4.6" text-anchor="middle" fill="#000">MYOC</text>
<text x="547.8" y="224.93" font-size="4.6" text-anchor="middle" fill="#000">C1QTNF3</text>
<text x="584.3" y="226.33" font-size="4.6" text-anchor="middle" fill="#000">CCDC126</text>
<text x="578.2" y="236.33" font-size="4.6" text-anchor="middle" fill="#000">BCHE</text>
<text x="631.7" y="201.83" font-size="4.6" text-anchor="middle" fill="#000">SAA2</text>
<text x="645.4" y="235.23" font-size="4.6" text-anchor="middle" fill="#000">SPP1</text>
<text x="647.2" y="214.13" font-size="4.6" text-anchor="middle" fill="#000">CLSTN3</text>
<text x="659.4" y="231.63" font-size="4.6" text-anchor="middle" fill="#000">IL6</text>
<text x="659.6" y="246.53" font-size="4.6" text-anchor="middle" fill="#000">EPHA10</text>
<text x="658.7" y="187.93" font-size="4.6" text-anchor="middle" fill="#000">TNC</text>
<text x="658.6" y="197.83" font-size="4.6" text-anchor="middle" fill="#000">OIT3</text>
<text x="677.1" y="177.63" font-size="4.6" text-anchor="middle" fill="#000">SERPINA3</text>
<text x="698.2" y="181.23" font-size="4.6" text-anchor="middle" fill="#000">ITIH3</text>
<text x="702" y="191.03" font-size="4.6" text-anchor="middle" fill="#000">HAVCR2</text>
<text x="681.5" y="199.33" font-size="4.6" text-anchor="middle" fill="#000">EWSR1</text>
<text x="669.5" y="216.83" font-size="4.6" text-anchor="middle" fill="#000">SLAMF6</text>
<text x="690.6" y="217.33" font-size="4.6" text-anchor="middle" fill="#000">ROR2</text>
<text x="708" y="228.53" font-size="4.6" text-anchor="middle" fill="#000">HTRA1</text>
<text x="698.1" y="236.33" font-size="4.6" text-anchor="middle" fill="#000">NRP1</text>
<text x="726.3" y="217.33" font-size="4.6" text-anchor="middle" fill="#000">B2M</text>
<text x="714.8" y="243.53" font-size="4.6" text-anchor="middle" fill="#000">ITIH4</text>
<text x="712.5" y="209.23" font-size="4.6" text-anchor="middle" fill="#000">COL6A3</text>
<text x="739.1" y="202.73" font-size="4.6" text-anchor="middle" fill="#000">TNFRSF1A</text>
<text x="726" y="164.53" font-size="4.6" text-anchor="middle" fill="#000">WFDC2</text>
<text x="731.2" y="175.33" font-size="4.6" text-anchor="middle" fill="#000">C1QTNF1</text>
<text x="747.5" y="192.13" font-size="4.6" text-anchor="middle" fill="#000">COL28A1</text>
<text x="753.9" y="173.43" font-size="4.6" text-anchor="middle" fill="#000">FBLN5</text>
<text x="773.9" y="159.03" font-size="4.6" text-anchor="middle" fill="#000">LMAN2</text>
<text x="785" y="150.53" font-size="4.6" text-anchor="middle" fill="#000">FSTL3</text>
<text x="776" y="221.63" font-size="4.6" text-anchor="middle" fill="#000">FSTL1</text>
<text x="669.9" y="67.73" font-size="4.6" text-anchor="middle" fill="#000">NPPB</text>
<text x="699.7" y="65.73" font-size="4.6" text-anchor="middle" fill="#000">GDF15</text>
<text x="717.6" y="82.53" font-size="4.6" text-anchor="middle" fill="#000">ANGPT2</text>
<text x="679.4" y="96.93" font-size="4.6" text-anchor="middle" fill="#000">THBS2</text>
<text x="687.4" y="125.23" font-size="4.6" text-anchor="middle" fill="#000">TNFRSF1B</text>
<text x="715.6" y="133.23" font-size="4.6" text-anchor="middle" fill="#000">ADAMTSL2</text>
<text x="681.4" y="139.53" font-size="4.6" text-anchor="middle" fill="#000">GOLM1</text>
<text x="703.6" y="149.63" font-size="4.6" text-anchor="middle" fill="#000">RBL2</text>
<text x="626" y="241.13" font-size="4.6" text-anchor="middle" fill="#000">SAA1</text>
<path d="M907.87 33V325M923.7 33V325M958.89 33V325M1029.27 33V325M1117.25 33V325M1205.22 33V325M893.79 33V325M1256.25 33V325M882 280.55H1265M882 234.79H1265M882 201.34H1265M882 146.75H1265M882 79.85H1265" stroke="#f2f2f2" stroke-width="0.5" fill="none"/>
<path d="M900.83 33V325M914.9 33V325M932.5 33V325M985.28 33V325M1073.26 33V325M1161.23 33V325M1249.21 33V325M887.2 33V325M882 314H1265M882 247.1H1265M882 222.48H1265M882 180.2H1265M882 113.3H1265M882 46.4H1265" stroke="#ececec" stroke-width="0.75" fill="none"/>
<line x1="932.5" y1="35" x2="932.5" y2="328" stroke="#222" stroke-width="0.9" stroke-dasharray="2.6 2"/>
<line x1="882" y1="222.48" x2="1265" y2="222.48" stroke="#222" stroke-width="0.9" stroke-dasharray="2.6 2"/>
<text x="880.5" y="317.44" font-size="8" text-anchor="end" fill="#4d4d4d">0.0</text>
<text x="880.5" y="250.54" font-size="8" text-anchor="end" fill="#4d4d4d">2.5</text>
<text x="880.5" y="225.92" font-size="8" text-anchor="end" fill="#4d4d4d">3.42</text>
<text x="880.5" y="183.64" font-size="8" text-anchor="end" fill="#4d4d4d">5.0</text>
<text x="880.5" y="116.74" font-size="8" text-anchor="end" fill="#4d4d4d">7.5</text>
<text x="880.5" y="49.84" font-size="8" text-anchor="end" fill="#4d4d4d">10.0</text>
<text x="900.83" y="336.08" font-size="8" text-anchor="middle" fill="#4d4d4d">0.1</text>
<text x="914.9" y="336.08" font-size="8" text-anchor="middle" fill="#4d4d4d">0.5</text>
<text x="932.5" y="336.08" font-size="8" text-anchor="middle" fill="#4d4d4d">1.0</text>
<text x="985.28" y="336.08" font-size="8" text-anchor="middle" fill="#4d4d4d">2.5</text>
<text x="1073.26" y="336.08" font-size="8" text-anchor="middle" fill="#4d4d4d">5</text>
<text x="1161.23" y="336.08" font-size="8" text-anchor="middle" fill="#4d4d4d">7.5</text>
<text x="1249.21" y="336.08" font-size="8" text-anchor="middle" fill="#4d4d4d">10.0</text>
<text transform="translate(861.6 178.2) rotate(-90)" font-size="8.9" font-weight="bold" text-anchor="middle">-Log10 p-value</text>
<text x="1074.9" y="346.8" font-size="9.2" font-weight="bold" text-anchor="middle" fill="#000">Odds Ratio</text>
<text x="864.8" y="21.1" font-size="18" fill="#000">c.</text>
<text x="884.4" y="24.4" font-size="11.5" font-weight="bold" fill="#000">Study 4: CHROME</text>
<g fill="#151515"><circle cx="910.8" cy="222.4" r="1.14"/><circle cx="919.5" cy="226.4" r="1.14"/><circle cx="902.4" cy="233.7" r="1.14"/><circle cx="909" cy="234.2" r="1.14"/><circle cx="909.8" cy="246" r="1.14"/><circle cx="912.9" cy="248.1" r="1.14"/><circle cx="915.5" cy="250" r="1.14"/><circle cx="916.3" cy="251.8" r="1.14"/><circle cx="905.1" cy="253.1" r="1.14"/><circle cx="913.5" cy="260.5" r="1.14"/><circle cx="920" cy="260.5" r="1.14"/><circle cx="905.1" cy="264.9" r="1.14"/><circle cx="912.9" cy="264.4" r="1.14"/><circle cx="921.3" cy="269.1" r="1.14"/><circle cx="912.9" cy="273" r="1.14"/><circle cx="917.6" cy="277.5" r="1.14"/><circle cx="913.7" cy="278.3" r="1.14"/><circle cx="917.4" cy="286.7" r="1.14"/><circle cx="925.2" cy="286.7" r="1.14"/><circle cx="918.7" cy="291.1" r="1.14"/><circle cx="924.2" cy="298.5" r="1.14"/><circle cx="923.4" cy="301.1" r="1.14"/><circle cx="926" cy="305.6" r="1.14"/><circle cx="928.7" cy="310.3" r="1.14"/><circle cx="931.3" cy="311.6" r="1.14"/><circle cx="932.6" cy="312.9" r="1.14"/><circle cx="935.2" cy="309" r="1.14"/><circle cx="937.8" cy="311.6" r="1.14"/><circle cx="936" cy="305.8" r="1.14"/><circle cx="939.1" cy="302.4" r="1.14"/><circle cx="940.5" cy="298.5" r="1.14"/><circle cx="943.1" cy="299.8" r="1.14"/><circle cx="941.2" cy="293.2" r="1.14"/><circle cx="944.9" cy="291.9" r="1.14"/><circle cx="940.5" cy="284" r="1.14"/><circle cx="942.3" cy="282.7" r="1.14"/><circle cx="946.5" cy="277.5" r="1.14"/><circle cx="948.3" cy="280.1" r="1.14"/><circle cx="944.9" cy="286.2" r="1.14"/><circle cx="950.4" cy="301.1" r="1.14"/><circle cx="954.1" cy="293.2" r="1.14"/><circle cx="954.4" cy="273" r="1.14"/><circle cx="958" cy="273" r="1.14"/><circle cx="956.2" cy="247.3" r="1.14"/><circle cx="966.7" cy="224.3" r="1.14"/><circle cx="977.2" cy="230.8" r="1.14"/><circle cx="968" cy="259.1" r="1.14"/><circle cx="971.9" cy="256.5" r="1.14"/><circle cx="970.1" cy="247.3" r="1.14"/><circle cx="973.8" cy="242.9" r="1.14"/><circle cx="980.6" cy="246.6" r="1.14"/><circle cx="985.8" cy="242.9" r="1.14"/><circle cx="975.9" cy="253.4" r="1.14"/><circle cx="977.2" cy="256.5" r="1.14"/><circle cx="973.2" cy="261.8" r="1.14"/><circle cx="977.2" cy="266.5" r="1.14"/><circle cx="967.2" cy="269.1" r="1.14"/><circle cx="970.6" cy="273.6" r="1.14"/><circle cx="982.4" cy="268.3" r="1.14"/><circle cx="985" cy="269.6" r="1.14"/><circle cx="968" cy="282.7" r="1.14"/><circle cx="975.9" cy="285.4" r="1.14"/><circle cx="992" cy="229.9" r="1.14"/><circle cx="1015.3" cy="233.7" r="1.14"/><circle cx="986.1" cy="243.1" r="1.14"/><circle cx="1022.7" cy="242.7" r="1.14"/><circle cx="980.7" cy="246.7" r="1.14"/><circle cx="993.3" cy="250.8" r="1.14"/><circle cx="1033" cy="251.2" r="1.14"/><circle cx="976.7" cy="259.3" r="1.14"/><circle cx="997.8" cy="257.5" r="1.14"/><circle cx="982.5" cy="268.3" r="1.14"/><circle cx="984.3" cy="269.8" r="1.14"/><circle cx="930" cy="313.5" r="1.14"/><circle cx="933.5" cy="314" r="1.14"/><circle cx="929.5" cy="308.5" r="1.14"/><circle cx="971.1" cy="274.1" r="1.14"/><circle cx="975.7" cy="274.1" r="1.14"/><circle cx="943.6" cy="292.1" r="1.14"/></g>
<circle cx="1017.7" cy="99.1" r="1.88" fill="#ee6a70" fill-opacity="0.5"/><circle cx="1017.7" cy="99.1" r="1.33" fill="#8c2432"/>
<circle cx="1005.6" cy="129.1" r="1.88" fill="#ee6a70" fill-opacity="0.5"/><circle cx="1005.6" cy="129.1" r="1.33" fill="#8c2432"/>
<circle cx="1024" cy="138.6" r="1.88" fill="#ee6a70" fill-opacity="0.5"/><circle cx="1024" cy="138.6" r="1.33" fill="#8c2432"/>
<circle cx="1033.4" cy="138.6" r="1.88" fill="#ee6a70" fill-opacity="0.5"/><circle cx="1033.4" cy="138.6" r="1.33" fill="#8c2432"/>
<circle cx="1034.5" cy="148.6" r="1.88" fill="#ee6a70" fill-opacity="0.5"/><circle cx="1034.5" cy="148.6" r="1.33" fill="#8c2432"/>
<circle cx="1067" cy="146.8" r="1.88" fill="#ee6a70" fill-opacity="0.5"/><circle cx="1067" cy="146.8" r="1.33" fill="#8c2432"/>
<circle cx="1011.1" cy="149.1" r="1.88" fill="#ee6a70" fill-opacity="0.5"/><circle cx="1011.1" cy="149.1" r="1.33" fill="#8c2432"/>
<circle cx="1011.8" cy="153.6" r="1.88" fill="#ee6a70" fill-opacity="0.5"/><circle cx="1011.8" cy="153.6" r="1.33" fill="#8c2432"/>
<circle cx="997.3" cy="161.2" r="1.88" fill="#ee6a70" fill-opacity="0.5"/><circle cx="997.3" cy="161.2" r="1.33" fill="#8c2432"/>
<circle cx="1093.3" cy="164.5" r="1.88" fill="#ee6a70" fill-opacity="0.5"/><circle cx="1093.3" cy="164.5" r="1.33" fill="#8c2432"/>
<circle cx="1080" cy="170.2" r="1.88" fill="#ee6a70" fill-opacity="0.5"/><circle cx="1080" cy="170.2" r="1.33" fill="#8c2432"/>
<circle cx="1044.8" cy="168.9" r="1.88" fill="#ee6a70" fill-opacity="0.5"/><circle cx="1044.8" cy="168.9" r="1.33" fill="#8c2432"/>
<circle cx="1010.4" cy="177.3" r="1.88" fill="#ee6a70" fill-opacity="0.5"/><circle cx="1010.4" cy="177.3" r="1.33" fill="#8c2432"/>
<circle cx="981.2" cy="179.1" r="1.88" fill="#ee6a70" fill-opacity="0.5"/><circle cx="981.2" cy="179.1" r="1.33" fill="#8c2432"/>
<circle cx="1011.3" cy="183" r="1.88" fill="#ee6a70" fill-opacity="0.5"/><circle cx="1011.3" cy="183" r="1.33" fill="#8c2432"/>
<circle cx="1016.8" cy="186.6" r="1.88" fill="#ee6a70" fill-opacity="0.5"/><circle cx="1016.8" cy="186.6" r="1.33" fill="#8c2432"/>
<circle cx="1040.6" cy="185.3" r="1.88" fill="#ee6a70" fill-opacity="0.5"/><circle cx="1040.6" cy="185.3" r="1.33" fill="#8c2432"/>
<circle cx="1083.1" cy="188" r="1.88" fill="#ee6a70" fill-opacity="0.5"/><circle cx="1083.1" cy="188" r="1.33" fill="#8c2432"/>
<circle cx="1005" cy="186.6" r="1.88" fill="#ee6a70" fill-opacity="0.5"/><circle cx="1005" cy="186.6" r="1.33" fill="#8c2432"/>
<circle cx="1019" cy="189.5" r="1.88" fill="#ee6a70" fill-opacity="0.5"/><circle cx="1019" cy="189.5" r="1.33" fill="#8c2432"/>
<circle cx="978" cy="196.7" r="1.88" fill="#ee6a70" fill-opacity="0.5"/><circle cx="978" cy="196.7" r="1.33" fill="#8c2432"/>
<circle cx="1003.2" cy="196.2" r="1.88" fill="#ee6a70" fill-opacity="0.5"/><circle cx="1003.2" cy="196.2" r="1.33" fill="#8c2432"/>
<circle cx="1033" cy="204.8" r="1.88" fill="#ee6a70" fill-opacity="0.5"/><circle cx="1033" cy="204.8" r="1.33" fill="#8c2432"/>
<circle cx="1014.6" cy="212.8" r="1.88" fill="#ee6a70" fill-opacity="0.5"/><circle cx="1014.6" cy="212.8" r="1.33" fill="#8c2432"/>
<circle cx="1000.5" cy="221.8" r="1.88" fill="#ee6a70" fill-opacity="0.5"/><circle cx="1000.5" cy="221.8" r="1.33" fill="#8c2432"/>
<circle cx="1043.3" cy="221.8" r="1.88" fill="#ee6a70" fill-opacity="0.5"/><circle cx="1043.3" cy="221.8" r="1.33" fill="#8c2432"/>
<circle cx="908.5" cy="191" r="1.88" fill="#ee6a70" fill-opacity="0.5"/><circle cx="908.5" cy="191" r="1.33" fill="#8c2432"/>
<circle cx="906.4" cy="211.2" r="1.88" fill="#ee6a70" fill-opacity="0.5"/><circle cx="906.4" cy="211.2" r="1.33" fill="#8c2432"/>
<circle cx="1167.8" cy="190.2" r="1.88" fill="#ee6a70" fill-opacity="0.5"/><circle cx="1167.8" cy="190.2" r="1.33" fill="#8c2432"/>
<circle cx="1195.2" cy="195" r="1.88" fill="#ee6a70" fill-opacity="0.5"/><circle cx="1195.2" cy="195" r="1.33" fill="#8c2432"/>
<circle cx="1231.6" cy="219.1" r="1.88" fill="#ee6a70" fill-opacity="0.5"/><circle cx="1231.6" cy="219.1" r="1.33" fill="#8c2432"/>
<circle cx="984.3" cy="218.3" r="1.88" fill="#ee6a70" fill-opacity="0.5"/><circle cx="984.3" cy="218.3" r="1.33" fill="#8c2432"/>
<circle cx="988.4" cy="218.3" r="1.88" fill="#ee6a70" fill-opacity="0.5"/><circle cx="988.4" cy="218.3" r="1.33" fill="#8c2432"/>
<circle cx="971.1" cy="212" r="1.88" fill="#ee6a70" fill-opacity="0.5"/><circle cx="971.1" cy="212" r="1.33" fill="#8c2432"/>
<path d="M961.82 198.5L974.4 197M971.77 207.3L984.3 204.3M1010 207.9L997.8 208.4" stroke="#222" stroke-width="0.5" fill="none"/>
<circle cx="974.4" cy="197" r="1.88" fill="#ee6a70" fill-opacity="0.5"/><circle cx="974.4" cy="197" r="1.33" fill="#8c2432"/>
<circle cx="984.3" cy="204.3" r="1.88" fill="#ee6a70" fill-opacity="0.5"/><circle cx="984.3" cy="204.3" r="1.33" fill="#8c2432"/>
<circle cx="997.8" cy="208.4" r="1.88" fill="#ee6a70" fill-opacity="0.5"/><circle cx="997.8" cy="208.4" r="1.33" fill="#8c2432"/>
<circle cx="1004" cy="188" r="1.88" fill="#ee6a70" fill-opacity="0.5"/><circle cx="1004" cy="188" r="1.33" fill="#8c2432"/>
<text x="1024.4" y="96.73" font-size="4.6" text-anchor="middle" fill="#000">B2M</text>
<text x="999.5" y="126.13" font-size="4.6" text-anchor="middle" fill="#000">DBI</text>
<text x="1012.3" y="136.03" font-size="4.6" text-anchor="middle" fill="#000">COL6A3</text>
<text x="1039.4" y="135.73" font-size="4.6" text-anchor="middle" fill="#000">COL28A1</text>
<text x="1041.4" y="145.63" font-size="4.6" text-anchor="middle" fill="#000">TNFRSF1B</text>
<text x="1073" y="144.13" font-size="4.6" text-anchor="middle" fill="#000">LMAN2</text>
<text x="1004.6" y="145.93" font-size="4.6" text-anchor="middle" fill="#000">RNASE6</text>
<text x="1018" y="160.73" font-size="4.6" text-anchor="middle" fill="#000">FSTL3</text>
<text x="986.3" y="166.13" font-size="4.6" text-anchor="middle" fill="#000">ATOX1</text>
<text x="1099.9" y="162.13" font-size="4.6" text-anchor="middle" fill="#000">CLEC4G</text>
<text x="1074" y="177.23" font-size="4.6" text-anchor="middle" fill="#000">BAMBI</text>
<text x="1036.8" y="175.43" font-size="4.6" text-anchor="middle" fill="#000">TNC</text>
<text x="1004.5" y="174.83" font-size="4.6" text-anchor="middle" fill="#000">STX8</text>
<text x="974.6" y="176.33" font-size="4.6" text-anchor="middle" fill="#000">SPP1</text>
<text x="996.3" y="183.83" font-size="4.6" text-anchor="middle" fill="#000">PCDHAC2</text>
<text x="1024" y="183.83" font-size="4.6" text-anchor="middle" fill="#000">SECTM1</text>
<text x="1051.1" y="183.83" font-size="4.6" text-anchor="middle" fill="#000">STX12</text>
<text x="1076.7" y="195.03" font-size="4.6" text-anchor="middle" fill="#000">SCARF1</text>
<text x="994.6" y="193.23" font-size="4.6" text-anchor="middle" fill="#000">MRC1</text>
<text x="1027.9" y="193.23" font-size="4.6" text-anchor="middle" fill="#000">IGFBP4</text>
<text x="974.8" y="192.63" font-size="4.6" text-anchor="middle" fill="#000">IGFLR1</text>
<text x="1016.2" y="201.33" font-size="4.6" text-anchor="middle" fill="#000">TXNDC5</text>
<text x="1045.9" y="210.73" font-size="4.6" text-anchor="middle" fill="#000">RBFOX2</text>
<text x="1020.4" y="219.73" font-size="4.6" text-anchor="middle" fill="#000">ADAMTSL2</text>
<text x="1007.3" y="228.43" font-size="4.6" text-anchor="middle" fill="#000">RANBP3</text>
<text x="1049.2" y="228.43" font-size="4.6" text-anchor="middle" fill="#000">NRP1</text>
<text x="902.5" y="198.13" font-size="4.6" text-anchor="middle" fill="#000">COL11A2</text>
<text x="899.8" y="218.33" font-size="4.6" text-anchor="middle" fill="#000">KLK7</text>
<text x="1161.5" y="197.23" font-size="4.6" text-anchor="middle" fill="#000">EDA2R</text>
<text x="1201.2" y="192.23" font-size="4.6" text-anchor="middle" fill="#000">PVRL2</text>
<text x="1238" y="216.33" font-size="4.6" text-anchor="middle" fill="#000">RELT</text>
<text x="986.8" y="225.13" font-size="4.6" text-anchor="middle" fill="#000">OIT3</text>
<text x="993.3" y="215.23" font-size="4.6" text-anchor="middle" fill="#000">CLSTN3</text>
<text x="964.7" y="219.23" font-size="4.6" text-anchor="middle" fill="#000">PCDHGA10</text>
<text x="956.2" y="200.43" font-size="4.6" text-anchor="middle" fill="#000">RBP5</text>
<text x="989.7" y="201.73" font-size="4.6" text-anchor="middle" fill="#000">PCDHGA12</text>
<text x="965.8" y="209.23" font-size="4.6" text-anchor="middle" fill="#000">ROR2</text>
<text x="1020.4" y="209.83" font-size="4.6" text-anchor="middle" fill="#000">GABARAP</text>
<text x="29.8" y="373.9" font-size="19" fill="#000">d.</text>
<rect x="69" y="416" width="15" height="12" fill="#ff0000"/>
<rect x="69" y="428" width="15" height="12" fill="#ff0000"/>
<rect x="69" y="440" width="15" height="12" fill="#ff0000"/>
<rect x="69" y="452" width="15" height="12" fill="#ff0000"/>
<rect x="84" y="416" width="15" height="12" fill="#ff0000"/>
<rect x="84" y="428" width="15" height="12" fill="#ff0000"/>
<rect x="84" y="440" width="15" height="12" fill="#ff0000"/>
<rect x="84" y="452" width="15" height="12" fill="#ff0000"/>
<rect x="99" y="416" width="15" height="12" fill="#ff0000"/>
<rect x="99" y="428" width="15" height="12" fill="#ff0000"/>
<rect x="99" y="440" width="15" height="12" fill="#ff0000"/>
<rect x="99" y="452" width="15" height="12" fill="#ff0000"/>
<rect x="114" y="416" width="15" height="12" fill="#ff0000"/>
<rect x="114" y="428" width="15" height="12" fill="#ff0000"/>
<rect x="114" y="440" width="15" height="12" fill="#ff0000"/>
<rect x="114" y="452" width="15" height="12" fill="#ff0000"/>
<rect x="129" y="416" width="15" height="12" fill="#ff0000"/>
<rect x="129" y="428" width="15" height="12" fill="#ff0000"/>
<rect x="129" y="440" width="15" height="12" fill="#ff0000"/>
<rect x="129" y="452" width="15" height="12" fill="#ff0000"/>
<rect x="144" y="416" width="15" height="12" fill="#ff0000"/>
<rect x="144" y="428" width="15" height="12" fill="#ff0000"/>
<rect x="144" y="440" width="15" height="12" fill="#ff0000"/>
<rect x="144" y="452" width="15" height="12" fill="#ff0000"/>
<rect x="159" y="416" width="14" height="12" fill="#ff0000"/>
<rect x="159" y="428" width="14" height="12" fill="#ff0000"/>
<rect x="159" y="440" width="14" height="12" fill="#ff0000"/>
<rect x="159" y="452" width="14" height="12" fill="#ff0000"/>
<rect x="173" y="416" width="15" height="12" fill="#ff0000"/>
<rect x="173" y="428" width="15" height="12" fill="#ff0000"/>
<rect x="173" y="440" width="15" height="12" fill="#ff0000"/>
<rect x="173" y="452" width="15" height="12" fill="#ff0000"/>
<rect x="188" y="416" width="15" height="12" fill="#ff0000"/>
<rect x="188" y="428" width="15" height="12" fill="#ff0000"/>
<rect x="188" y="440" width="15" height="12" fill="#ff0000"/>
<rect x="188" y="452" width="15" height="12" fill="#ff0000"/>
<rect x="203" y="416" width="15" height="12" fill="#ff0000"/>
<rect x="203" y="428" width="15" height="12" fill="#ff0000"/>
<rect x="203" y="440" width="15" height="12" fill="#ff0000"/>
<rect x="203" y="452" width="15" height="12" fill="#ff0000"/>
<rect x="218" y="416" width="15" height="12" fill="#ff0000"/>
<rect x="218" y="428" width="15" height="12" fill="#ff0000"/>
<rect x="218" y="440" width="15" height="12" fill="#ff0000"/>
<rect x="218" y="452" width="15" height="12" fill="#ff0000"/>
<rect x="233" y="416" width="15" height="12" fill="#ff0000"/>
<rect x="233" y="428" width="15" height="12" fill="#ff0000"/>
<rect x="233" y="440" width="15" height="12" fill="#ff0000"/>
<rect x="233" y="452" width="15" height="12" fill="#ff0000"/>
<rect x="248" y="416" width="15" height="12" fill="#ff0000"/>
<rect x="248" y="428" width="15" height="12" fill="#ff0000"/>
<rect x="248" y="440" width="15" height="12" fill="#ff0000"/>
<rect x="248" y="452" width="15" height="12" fill="#ff0000"/>
<rect x="263" y="416" width="15" height="12" fill="#ff0000"/>
<rect x="263" y="428" width="15" height="12" fill="#ff0000"/>
<rect x="263" y="440" width="15" height="12" fill="#ff0000"/>
<rect x="278" y="416" width="15" height="12" fill="#ff0000"/>
<rect x="278" y="428" width="15" height="12" fill="#ff0000"/>
<rect x="278" y="440" width="15" height="12" fill="#ff0000"/>
<rect x="293" y="416" width="14" height="12" fill="#ff0000"/>
<rect x="293" y="440" width="14" height="12" fill="#ff0000"/>
<rect x="293" y="452" width="14" height="12" fill="#ff0000"/>
<rect x="307" y="416" width="15" height="12" fill="#ff0000"/>
<rect x="307" y="428" width="15" height="12" fill="#ff0000"/>
<rect x="307" y="440" width="15" height="12" fill="#ff0000"/>
<rect x="322" y="416" width="15" height="12" fill="#ff0000"/>
<rect x="322" y="440" width="15" height="12" fill="#ff0000"/>
<rect x="322" y="452" width="15" height="12" fill="#ff0000"/>
<rect x="337" y="416" width="15" height="12" fill="#ff0000"/>
<rect x="337" y="428" width="15" height="12" fill="#ff0000"/>
<rect x="337" y="440" width="15" height="12" fill="#ff0000"/>
<rect x="352" y="416" width="15" height="12" fill="#ff0000"/>
<rect x="352" y="428" width="15" height="12" fill="#ff0000"/>
<rect x="352" y="440" width="15" height="12" fill="#ff0000"/>
<rect x="367" y="416" width="15" height="12" fill="#ff0000"/>
<rect x="367" y="428" width="15" height="12" fill="#ff0000"/>
<rect x="367" y="440" width="15" height="12" fill="#ff0000"/>
<rect x="382" y="416" width="15" height="12" fill="#ff0000"/>
<rect x="382" y="428" width="15" height="12" fill="#ff0000"/>
<rect x="382" y="440" width="15" height="12" fill="#ff0000"/>
<rect x="397" y="416" width="15" height="12" fill="#ff0000"/>
<rect x="397" y="440" width="15" height="12" fill="#ff0000"/>
<rect x="397" y="452" width="15" height="12" fill="#ff0000"/>
<rect x="412" y="416" width="15" height="12" fill="#ff0000"/>
<rect x="412" y="440" width="15" height="12" fill="#ff0000"/>
<rect x="412" y="452" width="15" height="12" fill="#ff0000"/>
<rect x="427" y="416" width="14" height="12" fill="#ff0000"/>
<rect x="427" y="428" width="14" height="12" fill="#ff0000"/>
<rect x="427" y="440" width="14" height="12" fill="#ff0000"/>
<rect x="441" y="416" width="15" height="12" fill="#ff0000"/>
<rect x="441" y="440" width="15" height="12" fill="#ff0000"/>
<rect x="441" y="452" width="15" height="12" fill="#ff0000"/>
<rect x="456" y="416" width="15" height="12" fill="#ff0000"/>
<rect x="456" y="440" width="15" height="12" fill="#ff0000"/>
<rect x="456" y="452" width="15" height="12" fill="#ff0000"/>
<rect x="471" y="416" width="15" height="12" fill="#ff0000"/>
<rect x="471" y="440" width="15" height="12" fill="#ff0000"/>
<rect x="471" y="452" width="15" height="12" fill="#ff0000"/>
<rect x="486" y="416" width="15" height="12" fill="#ff0000"/>
<rect x="486" y="428" width="15" height="12" fill="#ff0000"/>
<rect x="486" y="440" width="15" height="12" fill="#ff0000"/>
<rect x="501" y="416" width="15" height="12" fill="#ff0000"/>
<rect x="501" y="428" width="15" height="12" fill="#ff0000"/>
<rect x="501" y="440" width="15" height="12" fill="#ff0000"/>
<rect x="516" y="416" width="15" height="12" fill="#ff0000"/>
<rect x="516" y="428" width="15" height="12" fill="#ff0000"/>
<rect x="516" y="440" width="15" height="12" fill="#ff0000"/>
<rect x="531" y="416" width="15" height="12" fill="#ff0000"/>
<rect x="531" y="440" width="15" height="12" fill="#ff0000"/>
<rect x="531" y="452" width="15" height="12" fill="#ff0000"/>
<rect x="546" y="416" width="15" height="12" fill="#ff0000"/>
<rect x="546" y="428" width="15" height="12" fill="#ff0000"/>
<rect x="546" y="440" width="15" height="12" fill="#ff0000"/>
<rect x="561" y="416" width="14" height="12" fill="#ff0000"/>
<rect x="561" y="428" width="14" height="12" fill="#808080"/>
<rect x="561" y="440" width="14" height="12" fill="#ff0000"/>
<rect x="561" y="452" width="14" height="12" fill="#ff0000"/>
<rect x="575" y="416" width="15" height="12" fill="#ff0000"/>
<rect x="575" y="440" width="15" height="12" fill="#ff0000"/>
<rect x="575" y="452" width="15" height="12" fill="#ff0000"/>
<rect x="590" y="416" width="15" height="12" fill="#ff0000"/>
<rect x="590" y="440" width="15" height="12" fill="#ff0000"/>
<rect x="590" y="452" width="15" height="12" fill="#ff0000"/>
<rect x="605" y="416" width="15" height="12" fill="#ff0000"/>
<rect x="605" y="440" width="15" height="12" fill="#ff0000"/>
<rect x="605" y="452" width="15" height="12" fill="#ff0000"/>
<rect x="620" y="416" width="15" height="12" fill="#ff0000"/>
<rect x="620" y="440" width="15" height="12" fill="#ff0000"/>
<rect x="620" y="452" width="15" height="12" fill="#ff0000"/>
<rect x="635" y="416" width="15" height="12" fill="#ff0000"/>
<rect x="635" y="440" width="15" height="12" fill="#ff0000"/>
<rect x="635" y="452" width="15" height="12" fill="#ff0000"/>
<rect x="650" y="416" width="15" height="12" fill="#ff0000"/>
<rect x="650" y="428" width="15" height="12" fill="#ff0000"/>
<rect x="650" y="440" width="15" height="12" fill="#ff0000"/>
<rect x="665" y="416" width="15" height="12" fill="#ff0000"/>
<rect x="665" y="428" width="15" height="12" fill="#808080"/>
<rect x="665" y="440" width="15" height="12" fill="#ff0000"/>
<rect x="665" y="452" width="15" height="12" fill="#ff0000"/>
<rect x="680" y="416" width="15" height="12" fill="#ff0000"/>
<rect x="680" y="428" width="15" height="12" fill="#ff0000"/>
<rect x="680" y="440" width="15" height="12" fill="#ff0000"/>
<rect x="695" y="416" width="14" height="12" fill="#ff0000"/>
<rect x="695" y="428" width="14" height="12" fill="#ff0000"/>
<rect x="695" y="440" width="14" height="12" fill="#ff0000"/>
<rect x="709" y="416" width="15" height="12" fill="#ff0000"/>
<rect x="709" y="440" width="15" height="12" fill="#ff0000"/>
<rect x="709" y="452" width="15" height="12" fill="#ff0000"/>
<rect x="724" y="416" width="15" height="12" fill="#ff0000"/>
<rect x="724" y="428" width="15" height="12" fill="#ff0000"/>
<rect x="724" y="440" width="15" height="12" fill="#ff0000"/>
<rect x="739" y="416" width="15" height="12" fill="#ff0000"/>
<rect x="739" y="428" width="15" height="12" fill="#ff0000"/>
<rect x="739" y="440" width="15" height="12" fill="#ff0000"/>
<rect x="754" y="416" width="15" height="12" fill="#0000ff"/>
<rect x="754" y="428" width="15" height="12" fill="#0000ff"/>
<rect x="754" y="440" width="15" height="12" fill="#0000ff"/>
<rect x="769" y="416" width="15" height="12" fill="#0000ff"/>
<rect x="769" y="428" width="15" height="12" fill="#0000ff"/>
<rect x="769" y="440" width="15" height="12" fill="#0000ff"/>
<rect x="784" y="416" width="15" height="12" fill="#0000ff"/>
<rect x="784" y="428" width="15" height="12" fill="#0000ff"/>
<rect x="784" y="440" width="15" height="12" fill="#0000ff"/>
<rect x="799" y="416" width="15" height="12" fill="#0000ff"/>
<rect x="799" y="428" width="15" height="12" fill="#0000ff"/>
<rect x="799" y="440" width="15" height="12" fill="#0000ff"/>
<rect x="814" y="416" width="15" height="12" fill="#0000ff"/>
<rect x="814" y="428" width="15" height="12" fill="#0000ff"/>
<rect x="814" y="440" width="15" height="12" fill="#0000ff"/>
<rect x="829" y="416" width="14" height="12" fill="#0000ff"/>
<rect x="829" y="428" width="14" height="12" fill="#0000ff"/>
<rect x="829" y="440" width="14" height="12" fill="#0000ff"/>
<rect x="843" y="416" width="15" height="12" fill="#0000ff"/>
<rect x="843" y="428" width="15" height="12" fill="#0000ff"/>
<rect x="843" y="440" width="15" height="12" fill="#0000ff"/>
<rect x="858" y="416" width="15" height="12" fill="#ff0000"/>
<rect x="858" y="428" width="15" height="12" fill="#ff0000"/>
<rect x="873" y="416" width="15" height="12" fill="#ff0000"/>
<rect x="873" y="428" width="15" height="12" fill="#ff0000"/>
<rect x="888" y="416" width="15" height="12" fill="#ff0000"/>
<rect x="888" y="440" width="15" height="12" fill="#ff0000"/>
<rect x="903" y="416" width="15" height="12" fill="#ff0000"/>
<rect x="903" y="440" width="15" height="12" fill="#ff0000"/>
<rect x="918" y="416" width="15" height="12" fill="#ff0000"/>
<rect x="918" y="428" width="15" height="12" fill="#808080"/>
<rect x="918" y="440" width="15" height="12" fill="#ff0000"/>
<rect x="918" y="452" width="15" height="12" fill="#808080"/>
<rect x="933" y="416" width="15" height="12" fill="#ff0000"/>
<rect x="933" y="440" width="15" height="12" fill="#ff0000"/>
<rect x="948" y="416" width="15" height="12" fill="#ff0000"/>
<rect x="948" y="440" width="15" height="12" fill="#ff0000"/>
<rect x="963" y="416" width="14" height="12" fill="#ff0000"/>
<rect x="963" y="452" width="14" height="12" fill="#ff0000"/>
<rect x="977" y="416" width="15" height="12" fill="#ff0000"/>
<rect x="977" y="428" width="15" height="12" fill="#ff0000"/>
<rect x="992" y="416" width="15" height="12" fill="#ff0000"/>
<rect x="992" y="440" width="15" height="12" fill="#ff0000"/>
<rect x="1007" y="416" width="15" height="12" fill="#ff0000"/>
<rect x="1007" y="428" width="15" height="12" fill="#808080"/>
<rect x="1007" y="440" width="15" height="12" fill="#ff0000"/>
<rect x="1022" y="416" width="15" height="12" fill="#ff0000"/>
<rect x="1022" y="440" width="15" height="12" fill="#ff0000"/>
<rect x="1037" y="416" width="15" height="12" fill="#ff0000"/>
<rect x="1037" y="428" width="15" height="12" fill="#808080"/>
<rect x="1037" y="440" width="15" height="12" fill="#ff0000"/>
<rect x="1052" y="416" width="15" height="12" fill="#ff0000"/>
<rect x="1052" y="440" width="15" height="12" fill="#ff0000"/>
<rect x="1067" y="416" width="15" height="12" fill="#ff0000"/>
<rect x="1067" y="452" width="15" height="12" fill="#ff0000"/>
<rect x="1082" y="416" width="15" height="12" fill="#ff0000"/>
<rect x="1082" y="440" width="15" height="12" fill="#ff0000"/>
<rect x="1097" y="416" width="15" height="12" fill="#ff0000"/>
<rect x="1097" y="428" width="15" height="12" fill="#808080"/>
<rect x="1097" y="440" width="15" height="12" fill="#ff0000"/>
<rect x="1112" y="416" width="14" height="12" fill="#ff0000"/>
<rect x="1112" y="440" width="14" height="12" fill="#ff0000"/>
<rect x="1126" y="416" width="15" height="12" fill="#ff0000"/>
<rect x="1126" y="428" width="15" height="12" fill="#808080"/>
<rect x="1126" y="440" width="15" height="12" fill="#ff0000"/>
<rect x="1126" y="452" width="15" height="12" fill="#808080"/>
<rect x="1141" y="416" width="15" height="12" fill="#ff0000"/>
<rect x="1141" y="428" width="15" height="12" fill="#808080"/>
<rect x="1141" y="440" width="15" height="12" fill="#ff0000"/>
<rect x="1141" y="452" width="15" height="12" fill="#808080"/>
<rect x="1156" y="416" width="15" height="12" fill="#ff0000"/>
<rect x="1156" y="428" width="15" height="12" fill="#808080"/>
<rect x="1156" y="440" width="15" height="12" fill="#ff0000"/>
<rect x="1156" y="452" width="15" height="12" fill="#808080"/>
<rect x="1171" y="416" width="15" height="12" fill="#ff0000"/>
<rect x="1171" y="452" width="15" height="12" fill="#ff0000"/>
<rect x="1186" y="416" width="15" height="12" fill="#ff0000"/>
<rect x="1186" y="428" width="15" height="12" fill="#808080"/>
<rect x="1186" y="440" width="15" height="12" fill="#ff0000"/>
<rect x="1186" y="452" width="15" height="12" fill="#808080"/>
<rect x="1201" y="416" width="15" height="12" fill="#ff0000"/>
<rect x="1201" y="440" width="15" height="12" fill="#ff0000"/>
<rect x="1216" y="416" width="15" height="12" fill="#ff0000"/>
<rect x="1216" y="440" width="15" height="12" fill="#ff0000"/>
<path d="M69.5 416V465M84.5 416V465M99.5 416V465M114.5 416V465M129.5 416V465M144.5 416V465M159.5 416V465M173.5 416V465M188.5 416V465M203.5 416V465M218.5 416V465M233.5 416V465M248.5 416V465M263.5 416V465M278.5 416V465M293.5 416V465M307.5 416V465M322.5 416V465M337.5 416V465M352.5 416V465M367.5 416V465M382.5 416V465M397.5 416V465M412.5 416V465M427.5 416V465M441.5 416V465M456.5 416V465M471.5 416V465M486.5 416V465M501.5 416V465M516.5 416V465M531.5 416V465M546.5 416V465M561.5 416V465M575.5 416V465M590.5 416V465M605.5 416V465M620.5 416V465M635.5 416V465M650.5 416V465M665.5 416V465M680.5 416V465M695.5 416V465M709.5 416V465M724.5 416V465M739.5 416V465M754.5 416V465M769.5 416V465M784.5 416V465M799.5 416V465M814.5 416V465M829.5 416V465M843.5 416V465M858.5 416V465M873.5 416V465M888.5 416V465M903.5 416V465M918.5 416V465M933.5 416V465M948.5 416V465M963.5 416V465M977.5 416V465M992.5 416V465M1007.5 416V465M1022.5 416V465M1037.5 416V465M1052.5 416V465M1067.5 416V465M1082.5 416V465M1097.5 416V465M1112.5 416V465M1126.5 416V465M1141.5 416V465M1156.5 416V465M1171.5 416V465M1186.5 416V465M1201.5 416V465M1216.5 416V465M1231.5 416V465M69 416.5H1232M69 428.5H1232M69 440.5H1232M69 452.5H1232M69 464.5H1232" stroke="#1c1c1c" stroke-width="1" fill="none"/>
<text x="44" y="426.12" font-size="10" font-weight="bold" text-anchor="middle" fill="#000">BKBC</text>
<text x="44" y="438.18" font-size="10" font-weight="bold" text-anchor="middle" fill="#000">ARIC</text>
<text x="44" y="450.23" font-size="10" font-weight="bold" text-anchor="middle" fill="#000">KPMP</text>
<text x="44" y="462.27" font-size="10" font-weight="bold" text-anchor="middle" fill="#000">CHROME</text>
<text transform="translate(79.95 415.5) rotate(-45)" font-size="10.3" font-weight="bold">SPP1</text>
<text transform="translate(94.83 415.5) rotate(-45)" font-size="10.3" font-weight="bold">TNC</text>
<text transform="translate(109.73 415.5) rotate(-45)" font-size="10.3" font-weight="bold">CLSTN3</text>
<text transform="translate(124.61 415.5) rotate(-45)" font-size="10.3" font-weight="bold">ROR2</text>
<text transform="translate(139.5 415.5) rotate(-45)" font-size="10.3" font-weight="bold">OIT3</text>
<text transform="translate(154.4 415.5) rotate(-45)" font-size="10.3" font-weight="bold">B2M</text>
<text transform="translate(169.29 415.5) rotate(-45)" font-size="10.3" font-weight="bold">COL6A3</text>
<text transform="translate(184.18 415.5) rotate(-45)" font-size="10.3" font-weight="bold">TNFRSF1B</text>
<text transform="translate(199.06 415.5) rotate(-45)" font-size="10.3" font-weight="bold">FSTL3</text>
<text transform="translate(213.95 415.5) rotate(-45)" font-size="10.3" font-weight="bold">ADAMTSL2</text>
<text transform="translate(228.85 415.5) rotate(-45)" font-size="10.3" font-weight="bold">COL28A1</text>
<text transform="translate(243.74 415.5) rotate(-45)" font-size="10.3" font-weight="bold">LMAN2</text>
<text transform="translate(258.62 415.5) rotate(-45)" font-size="10.3" font-weight="bold">NRP1</text>
<text transform="translate(273.51 415.5) rotate(-45)" font-size="10.3" font-weight="bold">GOLM1</text>
<text transform="translate(288.41 415.5) rotate(-45)" font-size="10.3" font-weight="bold">SERPINA3</text>
<text transform="translate(303.3 415.5) rotate(-45)" font-size="10.3" font-weight="bold">IGFLR1</text>
<text transform="translate(318.19 415.5) rotate(-45)" font-size="10.3" font-weight="bold">EPHA10</text>
<text transform="translate(333.07 415.5) rotate(-45)" font-size="10.3" font-weight="bold">PCDHGA10</text>
<text transform="translate(347.96 415.5) rotate(-45)" font-size="10.3" font-weight="bold">RBL2</text>
<text transform="translate(362.86 415.5) rotate(-45)" font-size="10.3" font-weight="bold">THBS2</text>
<text transform="translate(377.75 415.5) rotate(-45)" font-size="10.3" font-weight="bold">NPPB</text>
<text transform="translate(392.63 415.5) rotate(-45)" font-size="10.3" font-weight="bold">ANGPT2</text>
<text transform="translate(407.53 415.5) rotate(-45)" font-size="10.3" font-weight="bold">RNASE6</text>
<text transform="translate(422.42 415.5) rotate(-45)" font-size="10.3" font-weight="bold">ATOX1</text>
<text transform="translate(437.31 415.5) rotate(-45)" font-size="10.3" font-weight="bold">GDF15</text>
<text transform="translate(452.19 415.5) rotate(-45)" font-size="10.3" font-weight="bold">TXNDC5</text>
<text transform="translate(467.08 415.5) rotate(-45)" font-size="10.3" font-weight="bold">EDA2R</text>
<text transform="translate(481.98 415.5) rotate(-45)" font-size="10.3" font-weight="bold">RANBP3</text>
<text transform="translate(496.87 415.5) rotate(-45)" font-size="10.3" font-weight="bold">WFDC2</text>
<text transform="translate(511.75 415.5) rotate(-45)" font-size="10.3" font-weight="bold">EWSR1</text>
<text transform="translate(526.65 415.5) rotate(-45)" font-size="10.3" font-weight="bold">ITIH3</text>
<text transform="translate(541.54 415.5) rotate(-45)" font-size="10.3" font-weight="bold">BAMBI</text>
<text transform="translate(556.43 415.5) rotate(-45)" font-size="10.3" font-weight="bold">TNFRSF1A</text>
<text transform="translate(571.32 415.5) rotate(-45)" font-size="10.3" font-weight="bold">RELT</text>
<text transform="translate(586.21 415.5) rotate(-45)" font-size="10.3" font-weight="bold">PCDHAC2</text>
<text transform="translate(601.1 415.5) rotate(-45)" font-size="10.3" font-weight="bold">RBP5</text>
<text transform="translate(615.99 415.5) rotate(-45)" font-size="10.3" font-weight="bold">CLEC4G</text>
<text transform="translate(630.88 415.5) rotate(-45)" font-size="10.3" font-weight="bold">PCDHGA12</text>
<text transform="translate(645.77 415.5) rotate(-45)" font-size="10.3" font-weight="bold">RBFOX2</text>
<text transform="translate(660.66 415.5) rotate(-45)" font-size="10.3" font-weight="bold">HAVCR2</text>
<text transform="translate(675.55 415.5) rotate(-45)" font-size="10.3" font-weight="bold">GABARAP</text>
<text transform="translate(690.44 415.5) rotate(-45)" font-size="10.3" font-weight="bold">FBLN5</text>
<text transform="translate(705.33 415.5) rotate(-45)" font-size="10.3" font-weight="bold">C1QTNF1</text>
<text transform="translate(720.22 415.5) rotate(-45)" font-size="10.3" font-weight="bold">IGFBP4</text>
<text transform="translate(735.11 415.5) rotate(-45)" font-size="10.3" font-weight="bold">FSTL1</text>
<text transform="translate(750 415.5) rotate(-45)" font-size="10.3" font-weight="bold">ITIH4</text>
<text transform="translate(764.89 415.5) rotate(-45)" font-size="10.3" font-weight="bold">KLKB1</text>
<text transform="translate(779.78 415.5) rotate(-45)" font-size="10.3" font-weight="bold">C1QTNF3</text>
<text transform="translate(794.67 415.5) rotate(-45)" font-size="10.3" font-weight="bold">AFM</text>
<text transform="translate(809.56 415.5) rotate(-45)" font-size="10.3" font-weight="bold">CLEC3B</text>
<text transform="translate(824.45 415.5) rotate(-45)" font-size="10.3" font-weight="bold">CCDC126</text>
<text transform="translate(839.34 415.5) rotate(-45)" font-size="10.3" font-weight="bold">CDH3</text>
<text transform="translate(854.23 415.5) rotate(-45)" font-size="10.3" font-weight="bold">BCHE</text>
<text transform="translate(869.12 415.5) rotate(-45)" font-size="10.3" font-weight="bold">SAA2</text>
<text transform="translate(884.01 415.5) rotate(-45)" font-size="10.3" font-weight="bold">SAA1</text>
<text transform="translate(898.9 415.5) rotate(-45)" font-size="10.3" font-weight="bold">HAVCR1</text>
<text transform="translate(913.79 415.5) rotate(-45)" font-size="10.3" font-weight="bold">IL1RL1</text>
<text transform="translate(928.68 415.5) rotate(-45)" font-size="10.3" font-weight="bold">VSIG4</text>
<text transform="translate(943.57 415.5) rotate(-45)" font-size="10.3" font-weight="bold">MZB1</text>
<text transform="translate(958.46 415.5) rotate(-45)" font-size="10.3" font-weight="bold">NNMT</text>
<text transform="translate(973.35 415.5) rotate(-45)" font-size="10.3" font-weight="bold">MRC1</text>
<text transform="translate(988.24 415.5) rotate(-45)" font-size="10.3" font-weight="bold">IL6</text>
<text transform="translate(1003.13 415.5) rotate(-45)" font-size="10.3" font-weight="bold">FGL1</text>
<text transform="translate(1018.02 415.5) rotate(-45)" font-size="10.3" font-weight="bold">EVA1C</text>
<text transform="translate(1032.9 415.5) rotate(-45)" font-size="10.3" font-weight="bold">LAMC2</text>
<text transform="translate(1047.79 415.5) rotate(-45)" font-size="10.3" font-weight="bold">TIMP1</text>
<text transform="translate(1062.68 415.5) rotate(-45)" font-size="10.3" font-weight="bold">OLFM1</text>
<text transform="translate(1077.57 415.5) rotate(-45)" font-size="10.3" font-weight="bold">STX8</text>
<text transform="translate(1092.46 415.5) rotate(-45)" font-size="10.3" font-weight="bold">CEACAM8</text>
<text transform="translate(1107.36 415.5) rotate(-45)" font-size="10.3" font-weight="bold">MARCO</text>
<text transform="translate(1122.24 415.5) rotate(-45)" font-size="10.3" font-weight="bold">CELA1</text>
<text transform="translate(1137.13 415.5) rotate(-45)" font-size="10.3" font-weight="bold">EHD2</text>
<text transform="translate(1152.02 415.5) rotate(-45)" font-size="10.3" font-weight="bold">EFNA1</text>
<text transform="translate(1166.91 415.5) rotate(-45)" font-size="10.3" font-weight="bold">LMNB2</text>
<text transform="translate(1181.81 415.5) rotate(-45)" font-size="10.3" font-weight="bold">DBI</text>
<text transform="translate(1196.69 415.5) rotate(-45)" font-size="10.3" font-weight="bold">COA4</text>
<text transform="translate(1211.59 415.5) rotate(-45)" font-size="10.3" font-weight="bold">SERPINA1</text>
<text transform="translate(1226.47 415.5) rotate(-45)" font-size="10.3" font-weight="bold">PRSS22</text>
<rect x="69" y="546" width="15" height="14" fill="#ff0000"/>
<rect x="69" y="573" width="15" height="14" fill="#ff0000"/>
<rect x="84" y="546" width="15" height="14" fill="#ff0000"/>
<rect x="84" y="587" width="15" height="13" fill="#ff0000"/>
<rect x="99" y="546" width="15" height="14" fill="#ff0000"/>
<rect x="99" y="573" width="15" height="14" fill="#ff0000"/>
<rect x="114" y="546" width="15" height="14" fill="#ff0000"/>
<rect x="114" y="573" width="15" height="14" fill="#ff0000"/>
<rect x="129" y="546" width="15" height="14" fill="#ff0000"/>
<rect x="129" y="560" width="15" height="13" fill="#808080"/>
<rect x="129" y="573" width="15" height="14" fill="#ff0000"/>
<rect x="129" y="587" width="15" height="13" fill="#808080"/>
<rect x="144" y="546" width="15" height="14" fill="#ff0000"/>
<rect x="144" y="560" width="15" height="13" fill="#ff0000"/>
<rect x="159" y="546" width="14" height="14" fill="#ff0000"/>
<rect x="159" y="560" width="14" height="13" fill="#ff0000"/>
<rect x="173" y="546" width="15" height="14" fill="#ff0000"/>
<rect x="173" y="573" width="15" height="14" fill="#ff0000"/>
<rect x="188" y="546" width="15" height="14" fill="#ff0000"/>
<rect x="188" y="587" width="15" height="13" fill="#ff0000"/>
<rect x="203" y="546" width="15" height="14" fill="#ff0000"/>
<rect x="203" y="573" width="15" height="14" fill="#ff0000"/>
<rect x="218" y="546" width="15" height="14" fill="#ff0000"/>
<rect x="218" y="560" width="15" height="13" fill="#808080"/>
<rect x="218" y="573" width="15" height="14" fill="#ff0000"/>
<rect x="233" y="546" width="15" height="14" fill="#ff0000"/>
<rect x="233" y="587" width="15" height="13" fill="#ff0000"/>
<rect x="248" y="546" width="15" height="14" fill="#ff0000"/>
<rect x="248" y="587" width="15" height="13" fill="#ff0000"/>
<rect x="263" y="546" width="15" height="14" fill="#ff0000"/>
<rect x="263" y="573" width="15" height="14" fill="#ff0000"/>
<rect x="278" y="546" width="15" height="14" fill="#ff0000"/>
<rect x="278" y="560" width="15" height="13" fill="#808080"/>
<rect x="278" y="573" width="15" height="14" fill="#ff0000"/>
<rect x="278" y="587" width="15" height="13" fill="#808080"/>
<rect x="293" y="546" width="14" height="14" fill="#ff0000"/>
<rect x="293" y="573" width="14" height="14" fill="#ff0000"/>
<rect x="307" y="546" width="15" height="14" fill="#ff0000"/>
<rect x="307" y="573" width="15" height="14" fill="#ff0000"/>
<rect x="307" y="587" width="15" height="13" fill="#808080"/>
<rect x="322" y="546" width="15" height="14" fill="#ff0000"/>
<rect x="322" y="560" width="15" height="13" fill="#808080"/>
<rect x="322" y="573" width="15" height="14" fill="#ff0000"/>
<rect x="322" y="587" width="15" height="13" fill="#808080"/>
<rect x="337" y="546" width="15" height="14" fill="#0000ff"/>
<rect x="337" y="560" width="15" height="13" fill="#808080"/>
<rect x="337" y="573" width="15" height="14" fill="#0000ff"/>
<rect x="352" y="546" width="15" height="14" fill="#0000ff"/>
<rect x="352" y="560" width="15" height="13" fill="#808080"/>
<rect x="352" y="573" width="15" height="14" fill="#0000ff"/>
<rect x="367" y="546" width="15" height="14" fill="#0000ff"/>
<rect x="367" y="573" width="15" height="14" fill="#0000ff"/>
<rect x="382" y="546" width="15" height="14" fill="#0000ff"/>
<rect x="382" y="573" width="15" height="14" fill="#0000ff"/>
<rect x="397" y="546" width="15" height="14" fill="#0000ff"/>
<rect x="397" y="573" width="15" height="14" fill="#0000ff"/>
<rect x="412" y="546" width="15" height="14" fill="#0000ff"/>
<rect x="412" y="560" width="15" height="13" fill="#0000ff"/>
<rect x="427" y="546" width="14" height="14" fill="#0000ff"/>
<rect x="427" y="573" width="14" height="14" fill="#0000ff"/>
<rect x="441" y="546" width="15" height="14" fill="#0000ff"/>
<rect x="441" y="560" width="15" height="13" fill="#0000ff"/>
<rect x="456" y="546" width="15" height="14" fill="#0000ff"/>
<rect x="456" y="587" width="15" height="13" fill="#0000ff"/>
<rect x="471" y="546" width="15" height="14" fill="#0000ff"/>
<rect x="471" y="573" width="15" height="14" fill="#0000ff"/>
<rect x="486" y="546" width="15" height="14" fill="#0000ff"/>
<rect x="486" y="560" width="15" height="13" fill="#0000ff"/>
<rect x="501" y="546" width="15" height="14" fill="#0000ff"/>
<rect x="501" y="573" width="15" height="14" fill="#0000ff"/>
<rect x="516" y="546" width="15" height="14" fill="#0000ff"/>
<rect x="516" y="587" width="15" height="13" fill="#0000ff"/>
<rect x="531" y="546" width="15" height="14" fill="#0000ff"/>
<rect x="531" y="573" width="15" height="14" fill="#0000ff"/>
<rect x="546" y="546" width="15" height="14" fill="#ff0000"/>
<rect x="561" y="546" width="14" height="14" fill="#ff0000"/>
<rect x="561" y="560" width="14" height="13" fill="#808080"/>
<rect x="561" y="587" width="14" height="13" fill="#808080"/>
<rect x="575" y="546" width="15" height="14" fill="#ff0000"/>
<rect x="590" y="546" width="15" height="14" fill="#ff0000"/>
<rect x="605" y="546" width="15" height="14" fill="#ff0000"/>
<rect x="620" y="546" width="15" height="14" fill="#ff0000"/>
<rect x="620" y="560" width="15" height="13" fill="#808080"/>
<rect x="635" y="546" width="15" height="14" fill="#ff0000"/>
<rect x="635" y="560" width="15" height="13" fill="#808080"/>
<rect x="635" y="587" width="15" height="13" fill="#808080"/>
<rect x="650" y="546" width="15" height="14" fill="#ff0000"/>
<rect x="665" y="546" width="15" height="14" fill="#ff0000"/>
<rect x="680" y="546" width="15" height="14" fill="#ff0000"/>
<rect x="680" y="560" width="15" height="13" fill="#808080"/>
<rect x="680" y="587" width="15" height="13" fill="#808080"/>
<rect x="695" y="546" width="14" height="14" fill="#ff0000"/>
<rect x="709" y="546" width="15" height="14" fill="#ff0000"/>
<rect x="724" y="546" width="15" height="14" fill="#ff0000"/>
<rect x="724" y="560" width="15" height="13" fill="#808080"/>
<rect x="724" y="587" width="15" height="13" fill="#808080"/>
<rect x="739" y="546" width="15" height="14" fill="#ff0000"/>
<rect x="739" y="560" width="15" height="13" fill="#808080"/>
<rect x="739" y="587" width="15" height="13" fill="#808080"/>
<rect x="754" y="546" width="15" height="14" fill="#ff0000"/>
<rect x="754" y="560" width="15" height="13" fill="#808080"/>
<rect x="754" y="587" width="15" height="13" fill="#808080"/>
<rect x="769" y="546" width="15" height="14" fill="#ff0000"/>
<rect x="784" y="546" width="15" height="14" fill="#ff0000"/>
<rect x="799" y="546" width="15" height="14" fill="#ff0000"/>
<rect x="814" y="546" width="15" height="14" fill="#ff0000"/>
<rect x="814" y="560" width="15" height="13" fill="#808080"/>
<rect x="814" y="587" width="15" height="13" fill="#808080"/>
<rect x="829" y="546" width="14" height="14" fill="#ff0000"/>
<rect x="843" y="546" width="15" height="14" fill="#ff0000"/>
<rect x="843" y="560" width="15" height="13" fill="#808080"/>
<rect x="843" y="587" width="15" height="13" fill="#808080"/>
<rect x="858" y="546" width="15" height="14" fill="#ff0000"/>
<rect x="873" y="546" width="15" height="14" fill="#ff0000"/>
<rect x="888" y="546" width="15" height="14" fill="#ff0000"/>
<rect x="888" y="560" width="15" height="13" fill="#808080"/>
<rect x="888" y="587" width="15" height="13" fill="#808080"/>
<rect x="903" y="546" width="15" height="14" fill="#ff0000"/>
<rect x="903" y="560" width="15" height="13" fill="#808080"/>
<rect x="903" y="587" width="15" height="13" fill="#808080"/>
<rect x="918" y="546" width="15" height="14" fill="#ff0000"/>
<rect x="918" y="560" width="15" height="13" fill="#808080"/>
<rect x="918" y="587" width="15" height="13" fill="#808080"/>
<rect x="933" y="546" width="15" height="14" fill="#ff0000"/>
<rect x="948" y="546" width="15" height="14" fill="#ff0000"/>
<rect x="963" y="546" width="14" height="14" fill="#ff0000"/>
<rect x="977" y="546" width="15" height="14" fill="#ff0000"/>
<rect x="992" y="546" width="15" height="14" fill="#ff0000"/>
<rect x="1007" y="546" width="15" height="14" fill="#ff0000"/>
<rect x="1022" y="546" width="15" height="14" fill="#ff0000"/>
<rect x="1022" y="560" width="15" height="13" fill="#808080"/>
<rect x="1037" y="546" width="15" height="14" fill="#ff0000"/>
<rect x="1037" y="560" width="15" height="13" fill="#808080"/>
<rect x="1037" y="587" width="15" height="13" fill="#808080"/>
<rect x="1052" y="546" width="15" height="14" fill="#ff0000"/>
<rect x="1052" y="560" width="15" height="13" fill="#808080"/>
<rect x="1052" y="587" width="15" height="13" fill="#808080"/>
<rect x="1067" y="546" width="15" height="14" fill="#ff0000"/>
<rect x="1082" y="546" width="15" height="14" fill="#ff0000"/>
<rect x="1097" y="546" width="15" height="14" fill="#0000ff"/>
<rect x="1112" y="546" width="14" height="14" fill="#0000ff"/>
<rect x="1112" y="560" width="14" height="13" fill="#808080"/>
<rect x="1112" y="587" width="14" height="13" fill="#808080"/>
<rect x="1126" y="546" width="15" height="14" fill="#0000ff"/>
<rect x="1141" y="546" width="15" height="14" fill="#0000ff"/>
<rect x="1156" y="546" width="15" height="14" fill="#0000ff"/>
<rect x="1171" y="546" width="15" height="14" fill="#0000ff"/>
<rect x="1186" y="546" width="15" height="14" fill="#0000ff"/>
<rect x="1201" y="546" width="15" height="14" fill="#0000ff"/>
<rect x="1201" y="560" width="15" height="13" fill="#808080"/>
<rect x="1201" y="587" width="15" height="13" fill="#808080"/>
<rect x="1216" y="546" width="15" height="14" fill="#0000ff"/>
<rect x="1216" y="560" width="15" height="13" fill="#808080"/>
<path d="M69.5 546V601M84.5 546V601M99.5 546V601M114.5 546V601M129.5 546V601M144.5 546V601M159.5 546V601M173.5 546V601M188.5 546V601M203.5 546V601M218.5 546V601M233.5 546V601M248.5 546V601M263.5 546V601M278.5 546V601M293.5 546V601M307.5 546V601M322.5 546V601M337.5 546V601M352.5 546V601M367.5 546V601M382.5 546V601M397.5 546V601M412.5 546V601M427.5 546V601M441.5 546V601M456.5 546V601M471.5 546V601M486.5 546V601M501.5 546V601M516.5 546V601M531.5 546V601M546.5 546V601M561.5 546V601M575.5 546V601M590.5 546V601M605.5 546V601M620.5 546V601M635.5 546V601M650.5 546V601M665.5 546V601M680.5 546V601M695.5 546V601M709.5 546V601M724.5 546V601M739.5 546V601M754.5 546V601M769.5 546V601M784.5 546V601M799.5 546V601M814.5 546V601M829.5 546V601M843.5 546V601M858.5 546V601M873.5 546V601M888.5 546V601M903.5 546V601M918.5 546V601M933.5 546V601M948.5 546V601M963.5 546V601M977.5 546V601M992.5 546V601M1007.5 546V601M1022.5 546V601M1037.5 546V601M1052.5 546V601M1067.5 546V601M1082.5 546V601M1097.5 546V601M1112.5 546V601M1126.5 546V601M1141.5 546V601M1156.5 546V601M1171.5 546V601M1186.5 546V601M1201.5 546V601M1216.5 546V601M1231.5 546V601M69 546.5H1232M69 560.5H1232M69 573.5H1232M69 587.5H1232M69 600.5H1232" stroke="#1c1c1c" stroke-width="1" fill="none"/>
<text x="44" y="556.8" font-size="10" font-weight="bold" text-anchor="middle" fill="#000">BKBC</text>
<text x="44" y="570.4" font-size="10" font-weight="bold" text-anchor="middle" fill="#000">ARIC</text>
<text x="44" y="584" font-size="10" font-weight="bold" text-anchor="middle" fill="#000">KPMP</text>
<text x="44" y="597.6" font-size="10" font-weight="bold" text-anchor="middle" fill="#000">CHROME</text>
<text transform="translate(79.95 545.4) rotate(-45)" font-size="10.3" font-weight="bold">SPRN</text>
<text transform="translate(94.83 545.4) rotate(-45)" font-size="10.3" font-weight="bold">STX12</text>
<text transform="translate(109.73 545.4) rotate(-45)" font-size="10.3" font-weight="bold">LILRA5</text>
<text transform="translate(124.61 545.4) rotate(-45)" font-size="10.3" font-weight="bold">CCN1</text>
<text transform="translate(139.5 545.4) rotate(-45)" font-size="10.3" font-weight="bold">PSPC1</text>
<text transform="translate(154.4 545.4) rotate(-45)" font-size="10.3" font-weight="bold">HTRA1</text>
<text transform="translate(169.29 545.4) rotate(-45)" font-size="10.3" font-weight="bold">SLAMF6</text>
<text transform="translate(184.18 545.4) rotate(-45)" font-size="10.3" font-weight="bold">PLAUR</text>
<text transform="translate(199.06 545.4) rotate(-45)" font-size="10.3" font-weight="bold">SCARF1</text>
<text transform="translate(213.95 545.4) rotate(-45)" font-size="10.3" font-weight="bold">C5</text>
<text transform="translate(228.85 545.4) rotate(-45)" font-size="10.3" font-weight="bold">TNFRSF10B</text>
<text transform="translate(243.74 545.4) rotate(-45)" font-size="10.3" font-weight="bold">SECTM1</text>
<text transform="translate(258.62 545.4) rotate(-45)" font-size="10.3" font-weight="bold">NECTIN2</text>
<text transform="translate(273.51 545.4) rotate(-45)" font-size="10.3" font-weight="bold">PCSK2</text>
<text transform="translate(288.41 545.4) rotate(-45)" font-size="10.3" font-weight="bold">LPL</text>
<text transform="translate(303.3 545.4) rotate(-45)" font-size="10.3" font-weight="bold">CD58</text>
<text transform="translate(318.19 545.4) rotate(-45)" font-size="10.3" font-weight="bold">C5|C6</text>
<text transform="translate(333.07 545.4) rotate(-45)" font-size="10.3" font-weight="bold">HYOU1</text>
<text transform="translate(347.96 545.4) rotate(-45)" font-size="10.3" font-weight="bold">HEXB</text>
<text transform="translate(362.86 545.4) rotate(-45)" font-size="10.3" font-weight="bold">PRSS8</text>
<text transform="translate(377.75 545.4) rotate(-45)" font-size="10.3" font-weight="bold">BAGE3</text>
<text transform="translate(392.63 545.4) rotate(-45)" font-size="10.3" font-weight="bold">NPS</text>
<text transform="translate(407.53 545.4) rotate(-45)" font-size="10.3" font-weight="bold">AHSG</text>
<text transform="translate(422.42 545.4) rotate(-45)" font-size="10.3" font-weight="bold">CACNA2D3</text>
<text transform="translate(437.31 545.4) rotate(-45)" font-size="10.3" font-weight="bold">SERPINA4</text>
<text transform="translate(452.19 545.4) rotate(-45)" font-size="10.3" font-weight="bold">MYOC</text>
<text transform="translate(467.08 545.4) rotate(-45)" font-size="10.3" font-weight="bold">KLK7</text>
<text transform="translate(481.98 545.4) rotate(-45)" font-size="10.3" font-weight="bold">MAP2K4</text>
<text transform="translate(496.87 545.4) rotate(-45)" font-size="10.3" font-weight="bold">ANTXR2</text>
<text transform="translate(511.75 545.4) rotate(-45)" font-size="10.3" font-weight="bold">CBLN4</text>
<text transform="translate(526.65 545.4) rotate(-45)" font-size="10.3" font-weight="bold">COL11A2</text>
<text transform="translate(541.54 545.4) rotate(-45)" font-size="10.3" font-weight="bold">CHAD</text>
<text transform="translate(556.43 545.4) rotate(-45)" font-size="10.3" font-weight="bold">PLA2G2A</text>
<text transform="translate(571.32 545.4) rotate(-45)" font-size="10.3" font-weight="bold">SFRP5</text>
<text transform="translate(586.21 545.4) rotate(-45)" font-size="10.3" font-weight="bold">NTN1</text>
<text transform="translate(601.1 545.4) rotate(-45)" font-size="10.3" font-weight="bold">PIGR</text>
<text transform="translate(615.99 545.4) rotate(-45)" font-size="10.3" font-weight="bold">CALCB</text>
<text transform="translate(630.88 545.4) rotate(-45)" font-size="10.3" font-weight="bold">INHBA</text>
<text transform="translate(645.77 545.4) rotate(-45)" font-size="10.3" font-weight="bold">TSEN15</text>
<text transform="translate(660.66 545.4) rotate(-45)" font-size="10.3" font-weight="bold">PSG9</text>
<text transform="translate(675.55 545.4) rotate(-45)" font-size="10.3" font-weight="bold">SULT2B1</text>
<text transform="translate(690.44 545.4) rotate(-45)" font-size="10.3" font-weight="bold">TCEAL5</text>
<text transform="translate(705.33 545.4) rotate(-45)" font-size="10.3" font-weight="bold">BICDL1</text>
<text transform="translate(720.22 545.4) rotate(-45)" font-size="10.3" font-weight="bold">NTN4</text>
<text transform="translate(735.11 545.4) rotate(-45)" font-size="10.3" font-weight="bold">CSTB</text>
<text transform="translate(750 545.4) rotate(-45)" font-size="10.3" font-weight="bold">YAP1</text>
<text transform="translate(764.89 545.4) rotate(-45)" font-size="10.3" font-weight="bold">TXNL4A</text>
<text transform="translate(779.78 545.4) rotate(-45)" font-size="10.3" font-weight="bold">CD163</text>
<text transform="translate(794.67 545.4) rotate(-45)" font-size="10.3" font-weight="bold">HOPX</text>
<text transform="translate(809.56 545.4) rotate(-45)" font-size="10.3" font-weight="bold">VWA1</text>
<text transform="translate(824.45 545.4) rotate(-45)" font-size="10.3" font-weight="bold">THY1</text>
<text transform="translate(839.34 545.4) rotate(-45)" font-size="10.3" font-weight="bold">ACP5</text>
<text transform="translate(854.23 545.4) rotate(-45)" font-size="10.3" font-weight="bold">SCCPDH</text>
<text transform="translate(869.12 545.4) rotate(-45)" font-size="10.3" font-weight="bold">SHANK3</text>
<text transform="translate(884.01 545.4) rotate(-45)" font-size="10.3" font-weight="bold">LILRB2</text>
<text transform="translate(898.9 545.4) rotate(-45)" font-size="10.3" font-weight="bold">PLEKHB1</text>
<text transform="translate(913.79 545.4) rotate(-45)" font-size="10.3" font-weight="bold">HNMT</text>
<text transform="translate(928.68 545.4) rotate(-45)" font-size="10.3" font-weight="bold">ALDH7A1</text>
<text transform="translate(943.57 545.4) rotate(-45)" font-size="10.3" font-weight="bold">LRIG1</text>
<text transform="translate(958.46 545.4) rotate(-45)" font-size="10.3" font-weight="bold">AGRN</text>
<text transform="translate(973.35 545.4) rotate(-45)" font-size="10.3" font-weight="bold">GAS6</text>
<text transform="translate(988.24 545.4) rotate(-45)" font-size="10.3" font-weight="bold">BMPER</text>
<text transform="translate(1003.13 545.4) rotate(-45)" font-size="10.3" font-weight="bold">MAN1C1</text>
<text transform="translate(1018.02 545.4) rotate(-45)" font-size="10.3" font-weight="bold">HLA-G</text>
<text transform="translate(1032.9 545.4) rotate(-45)" font-size="10.3" font-weight="bold">DDR1</text>
<text transform="translate(1047.79 545.4) rotate(-45)" font-size="10.3" font-weight="bold">USP10</text>
<text transform="translate(1062.68 545.4) rotate(-45)" font-size="10.3" font-weight="bold">DFFA</text>
<text transform="translate(1077.57 545.4) rotate(-45)" font-size="10.3" font-weight="bold">KIF3A</text>
<text transform="translate(1092.46 545.4) rotate(-45)" font-size="10.3" font-weight="bold">DPEP2</text>
<text transform="translate(1107.36 545.4) rotate(-45)" font-size="10.3" font-weight="bold">GSN</text>
<text transform="translate(1122.24 545.4) rotate(-45)" font-size="10.3" font-weight="bold">CDK5RAP3</text>
<text transform="translate(1137.13 545.4) rotate(-45)" font-size="10.3" font-weight="bold">APOA1</text>
<text transform="translate(1152.02 545.4) rotate(-45)" font-size="10.3" font-weight="bold">APOA4</text>
<text transform="translate(1166.91 545.4) rotate(-45)" font-size="10.3" font-weight="bold">SPINK9</text>
<text transform="translate(1181.81 545.4) rotate(-45)" font-size="10.3" font-weight="bold">KITLG</text>
<text transform="translate(1196.69 545.4) rotate(-45)" font-size="10.3" font-weight="bold">SERPINA5</text>
<text transform="translate(1211.59 545.4) rotate(-45)" font-size="10.3" font-weight="bold">ITGA11||ITGB1</text>
<text transform="translate(1226.47 545.4) rotate(-45)" font-size="10.3" font-weight="bold">CA6</text>
</svg></body></html>
